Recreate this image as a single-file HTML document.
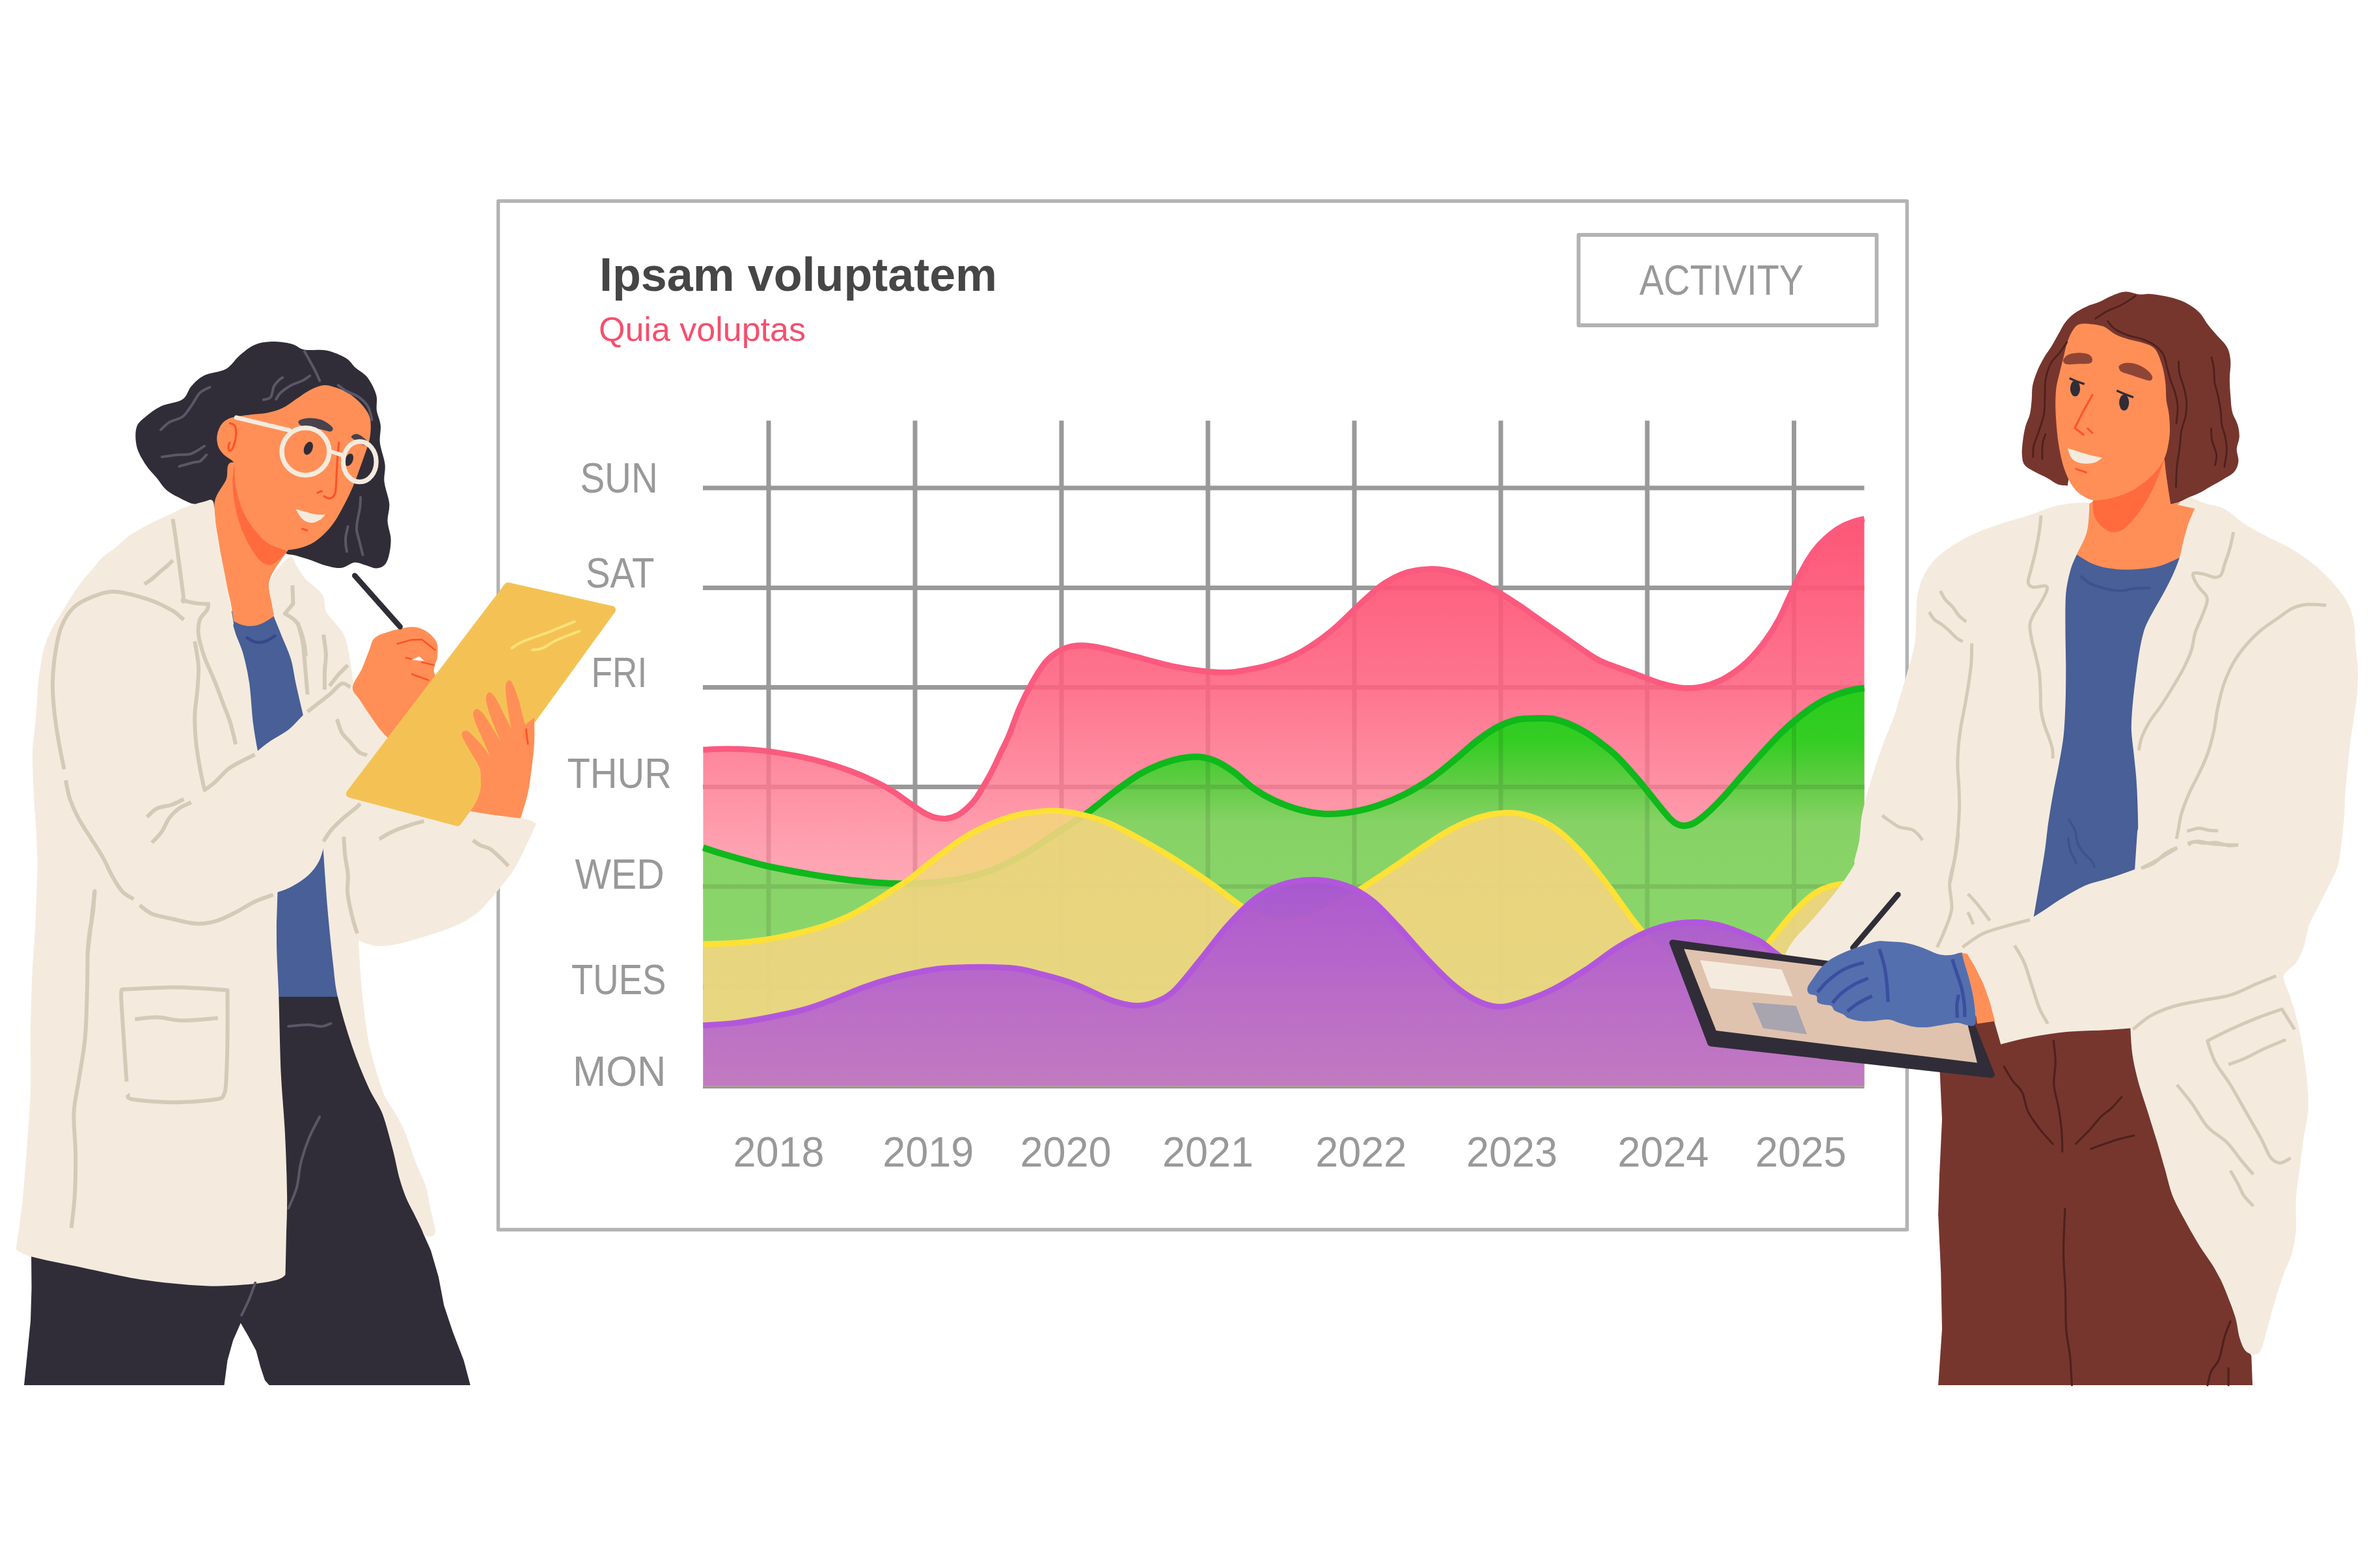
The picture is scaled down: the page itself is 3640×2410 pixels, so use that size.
<!DOCTYPE html>
<html><head><meta charset="utf-8"><title>Chart</title>
<style>html,body{margin:0;padding:0;background:#fff}body{width:3640px;height:2410px;overflow:hidden}svg{display:block}text{font-family:"Liberation Sans",sans-serif}</style>
</head><body>
<svg width="3640" height="2410" viewBox="0 0 3640 2410">
<rect width="3640" height="2410" fill="#fff"/>
<rect x="765.5" y="309" width="2164.7" height="1581" fill="none" stroke="#b3b3b3" stroke-width="5.4" stroke-linejoin="round"/>
<rect x="2425.5" y="361" width="458" height="139" fill="none" stroke="#b3b3b3" stroke-width="5.8" stroke-linejoin="round"/>
<text x="2519" y="452.5" font-size="65" fill="#999" textLength="252" lengthAdjust="spacingAndGlyphs">ACTIVITY</text>
<text x="921" y="447" font-size="72" font-weight="bold" fill="#464646" textLength="611" lengthAdjust="spacingAndGlyphs">Ipsam voluptatem</text>
<text x="920" y="524" font-size="52" fill="#f4506e" textLength="318" lengthAdjust="spacingAndGlyphs">Quia voluptas</text>
<path d="M1181 646.5V1672M1406 646.5V1672M1631 646.5V1672M1856 646.5V1672M2081 646.5V1672M2306 646.5V1672M2531 646.5V1672M2756.5 646.5V1672M1080 750H2864.5M1080 903.5H2864.5M1080 1056.5H2864.5M1080 1209.5H2864.5M1080 1362.5H2864.5M1080 1517H2864.5M1080 1669.5H2864.5" stroke="#999999" stroke-width="7" fill="none"/>
<text x="891.4" y="757" font-size="64" fill="#999" textLength="119.4" lengthAdjust="spacingAndGlyphs">SUN</text>
<text x="900" y="903" font-size="64" fill="#999" textLength="105.5" lengthAdjust="spacingAndGlyphs">SAT</text>
<text x="908.6" y="1056" font-size="64" fill="#999" textLength="85.6" lengthAdjust="spacingAndGlyphs">FRI</text>
<text x="871.5" y="1211" font-size="64" fill="#999" textLength="160.5" lengthAdjust="spacingAndGlyphs">THUR</text>
<text x="883.4" y="1366" font-size="64" fill="#999" textLength="137.4" lengthAdjust="spacingAndGlyphs">WED</text>
<text x="878" y="1528" font-size="64" fill="#999" textLength="145.4" lengthAdjust="spacingAndGlyphs">TUES</text>
<text x="880" y="1669" font-size="64" fill="#999" textLength="143.4" lengthAdjust="spacingAndGlyphs">MON</text>
<text x="1126.6" y="1793" font-size="64" fill="#999" textLength="140" lengthAdjust="spacingAndGlyphs">2018</text>
<text x="1356.3" y="1793" font-size="64" fill="#999" textLength="140" lengthAdjust="spacingAndGlyphs">2019</text>
<text x="1567.5" y="1793" font-size="64" fill="#999" textLength="140" lengthAdjust="spacingAndGlyphs">2020</text>
<text x="1786" y="1793" font-size="64" fill="#999" textLength="140" lengthAdjust="spacingAndGlyphs">2021</text>
<text x="2021.3" y="1793" font-size="64" fill="#999" textLength="140" lengthAdjust="spacingAndGlyphs">2022</text>
<text x="2252.9" y="1793" font-size="64" fill="#999" textLength="140" lengthAdjust="spacingAndGlyphs">2023</text>
<text x="2485.5" y="1793" font-size="64" fill="#999" textLength="140" lengthAdjust="spacingAndGlyphs">2024</text>
<text x="2697" y="1793" font-size="64" fill="#999" textLength="140" lengthAdjust="spacingAndGlyphs">2025</text>
<defs>
<linearGradient id="gp" gradientUnits="userSpaceOnUse" x1="0" y1="796" x2="0" y2="1672"><stop offset="0" stop-color="#fd4f70" stop-opacity=".96"/><stop offset=".3" stop-color="#fe6280" stop-opacity=".88"/><stop offset=".6" stop-color="#fe8a9d" stop-opacity=".78"/><stop offset="1" stop-color="#ffa4b4" stop-opacity=".6"/></linearGradient>
<linearGradient id="gg" gradientUnits="userSpaceOnUse" x1="0" y1="1054" x2="0" y2="1672"><stop offset="0" stop-color="#22cf18" stop-opacity=".97"/><stop offset=".14" stop-color="#2dd01f" stop-opacity=".96"/><stop offset=".25" stop-color="#5ccf42" stop-opacity=".95"/><stop offset=".34" stop-color="#80d561" stop-opacity=".95"/><stop offset="1" stop-color="#8bdb6e" stop-opacity=".95"/></linearGradient>
<linearGradient id="gy" gradientUnits="userSpaceOnUse" x1="0" y1="1240" x2="0" y2="1672"><stop offset="0" stop-color="#f3d47e" stop-opacity=".9"/><stop offset="1" stop-color="#eed783" stop-opacity=".93"/></linearGradient>
<linearGradient id="gv" gradientUnits="userSpaceOnUse" x1="0" y1="1349" x2="0" y2="1672"><stop offset="0" stop-color="#aa50d6" stop-opacity=".94"/><stop offset="1" stop-color="#c178c2" stop-opacity=".97"/></linearGradient>
</defs>
<path d="M1080.4 1152.3C1086.4 1152.1 1104.1 1151 1116.5 1151C1128.9 1151 1142 1151.4 1154.8 1152.3C1167.6 1153.2 1180.3 1154.8 1193.1 1156.6C1205.8 1158.5 1218.6 1160.6 1231.3 1163.3C1244.1 1165.9 1256.8 1169 1269.6 1172.7C1282.3 1176.4 1295.1 1180.6 1307.9 1185.5C1320.6 1190.3 1335.5 1196.9 1346.1 1202C1356.8 1207.1 1363.1 1210.8 1371.6 1216.1C1380.1 1221.4 1389.5 1228.6 1397.1 1233.9C1404.8 1239.2 1411.2 1244.3 1417.6 1248C1423.9 1251.7 1429.5 1254.4 1435.4 1256.1C1441.4 1257.8 1447.3 1258.7 1453.3 1258.2C1459.2 1257.7 1465.6 1255.8 1471.1 1253.1C1476.6 1250.3 1481.8 1245.8 1486.4 1241.6C1491.1 1237.3 1494.9 1233.3 1499.2 1227.6C1503.4 1221.8 1507.7 1214.4 1511.9 1207.1C1516.2 1199.9 1520.4 1192.5 1524.7 1184.2C1528.9 1175.9 1533.2 1166.3 1537.4 1157.4C1541.7 1148.5 1545.3 1142.3 1550.2 1130.6C1555.1 1119 1560.7 1101.4 1566.8 1087.4C1573 1073.5 1580.4 1058.7 1587.1 1046.9C1593.9 1035.1 1600.6 1024.3 1607.4 1016.5C1614.1 1008.7 1620.9 1004.2 1627.6 1000.3C1634.4 996.4 1641.1 994.6 1647.9 993.2C1654.7 991.9 1659.7 991.5 1668.2 992.2C1676.6 992.9 1685.1 994.2 1698.6 997.3C1712.1 1000.3 1732.3 1006 1749.2 1010.4C1766.1 1014.8 1783 1020.1 1799.9 1023.6C1816.8 1027.2 1835.3 1030.1 1850.5 1031.7C1865.7 1033.3 1877.6 1034.1 1891.1 1033.2C1904.6 1032.4 1921.6 1028.5 1931.6 1026.6C1941.6 1024.8 1943.5 1024.2 1951 1021.9C1958.5 1019.7 1968 1016.6 1976.5 1013C1985 1009.4 1993.5 1005.1 2002 1000.3C2010.5 995.4 2019 989.8 2027.6 983.7C2036.1 977.5 2044.6 970.7 2053.1 963.3C2061.6 955.8 2070.9 946.3 2078.6 939C2086.2 931.8 2092.2 926.1 2099 919.9C2105.8 913.7 2112.6 907.1 2119.4 902C2126.2 896.9 2133 892.9 2139.8 889.3C2146.6 885.7 2153.4 882.6 2160.2 880.4C2167 878.1 2173.8 877 2180.6 876C2187.4 875 2194.2 874.4 2201 874.5C2207.8 874.6 2214.6 875.3 2221.4 876.5C2228.2 877.7 2235 879.5 2241.8 881.6C2248.6 883.8 2255.4 886.3 2262.2 889.3C2269 892.3 2275 895.5 2282.7 899.5C2290.3 903.5 2299.7 908.4 2308.2 913.5C2316.7 918.6 2325.2 924.4 2333.7 930.1C2342.2 935.8 2350.7 942 2359.2 948C2367.7 953.9 2376.2 959.9 2384.7 965.8C2393.2 971.8 2401.7 977.7 2410.2 983.7C2418.7 989.6 2427.2 996 2435.7 1001.5C2444.2 1007.1 2448 1011 2461.2 1016.8C2474.4 1022.7 2499.5 1030.9 2514.8 1036.6C2530.1 1042.2 2540.9 1047.2 2553.1 1050.7C2565.2 1054.2 2577.3 1056.8 2587.5 1057.6C2597.7 1058.4 2605.4 1057.5 2614.3 1055.7C2623.2 1053.9 2632.1 1051 2641.1 1046.9C2650 1042.7 2659.6 1036.8 2667.9 1030.8C2676.2 1024.8 2683.2 1018.9 2690.8 1010.9C2698.5 1002.9 2706.8 992.7 2713.8 983C2720.8 973.2 2727.2 962.9 2732.9 952.4C2738.7 941.9 2743.1 930.7 2748.2 919.8C2753.3 909 2758.4 897.4 2763.5 887.3C2768.6 877.2 2773.7 867.5 2778.8 859.4C2783.9 851.3 2788.4 845.2 2794.1 838.7C2799.9 832.2 2806.9 825.5 2813.3 820.4C2819.6 815.3 2826 811.4 2832.4 808.1C2838.8 804.8 2846.2 802.2 2851.5 800.5C2856.9 798.7 2862.3 797.9 2864.5 797.4V1669.6H1080.4Z" fill="url(#gp)"/>
<path d="M1080.4 1152.3C1086.4 1152.1 1104.1 1151 1116.5 1151C1128.9 1151 1142 1151.4 1154.8 1152.3C1167.6 1153.2 1180.3 1154.8 1193.1 1156.6C1205.8 1158.5 1218.6 1160.6 1231.3 1163.3C1244.1 1165.9 1256.8 1169 1269.6 1172.7C1282.3 1176.4 1295.1 1180.6 1307.9 1185.5C1320.6 1190.3 1335.5 1196.9 1346.1 1202C1356.8 1207.1 1363.1 1210.8 1371.6 1216.1C1380.1 1221.4 1389.5 1228.6 1397.1 1233.9C1404.8 1239.2 1411.2 1244.3 1417.6 1248C1423.9 1251.7 1429.5 1254.4 1435.4 1256.1C1441.4 1257.8 1447.3 1258.7 1453.3 1258.2C1459.2 1257.7 1465.6 1255.8 1471.1 1253.1C1476.6 1250.3 1481.8 1245.8 1486.4 1241.6C1491.1 1237.3 1494.9 1233.3 1499.2 1227.6C1503.4 1221.8 1507.7 1214.4 1511.9 1207.1C1516.2 1199.9 1520.4 1192.5 1524.7 1184.2C1528.9 1175.9 1533.2 1166.3 1537.4 1157.4C1541.7 1148.5 1545.3 1142.3 1550.2 1130.6C1555.1 1119 1560.7 1101.4 1566.8 1087.4C1573 1073.5 1580.4 1058.7 1587.1 1046.9C1593.9 1035.1 1600.6 1024.3 1607.4 1016.5C1614.1 1008.7 1620.9 1004.2 1627.6 1000.3C1634.4 996.4 1641.1 994.6 1647.9 993.2C1654.7 991.9 1659.7 991.5 1668.2 992.2C1676.6 992.9 1685.1 994.2 1698.6 997.3C1712.1 1000.3 1732.3 1006 1749.2 1010.4C1766.1 1014.8 1783 1020.1 1799.9 1023.6C1816.8 1027.2 1835.3 1030.1 1850.5 1031.7C1865.7 1033.3 1877.6 1034.1 1891.1 1033.2C1904.6 1032.4 1921.6 1028.5 1931.6 1026.6C1941.6 1024.8 1943.5 1024.2 1951 1021.9C1958.5 1019.7 1968 1016.6 1976.5 1013C1985 1009.4 1993.5 1005.1 2002 1000.3C2010.5 995.4 2019 989.8 2027.6 983.7C2036.1 977.5 2044.6 970.7 2053.1 963.3C2061.6 955.8 2070.9 946.3 2078.6 939C2086.2 931.8 2092.2 926.1 2099 919.9C2105.8 913.7 2112.6 907.1 2119.4 902C2126.2 896.9 2133 892.9 2139.8 889.3C2146.6 885.7 2153.4 882.6 2160.2 880.4C2167 878.1 2173.8 877 2180.6 876C2187.4 875 2194.2 874.4 2201 874.5C2207.8 874.6 2214.6 875.3 2221.4 876.5C2228.2 877.7 2235 879.5 2241.8 881.6C2248.6 883.8 2255.4 886.3 2262.2 889.3C2269 892.3 2275 895.5 2282.7 899.5C2290.3 903.5 2299.7 908.4 2308.2 913.5C2316.7 918.6 2325.2 924.4 2333.7 930.1C2342.2 935.8 2350.7 942 2359.2 948C2367.7 953.9 2376.2 959.9 2384.7 965.8C2393.2 971.8 2401.7 977.7 2410.2 983.7C2418.7 989.6 2427.2 996 2435.7 1001.5C2444.2 1007.1 2448 1011 2461.2 1016.8C2474.4 1022.7 2499.5 1030.9 2514.8 1036.6C2530.1 1042.2 2540.9 1047.2 2553.1 1050.7C2565.2 1054.2 2577.3 1056.8 2587.5 1057.6C2597.7 1058.4 2605.4 1057.5 2614.3 1055.7C2623.2 1053.9 2632.1 1051 2641.1 1046.9C2650 1042.7 2659.6 1036.8 2667.9 1030.8C2676.2 1024.8 2683.2 1018.9 2690.8 1010.9C2698.5 1002.9 2706.8 992.7 2713.8 983C2720.8 973.2 2727.2 962.9 2732.9 952.4C2738.7 941.9 2743.1 930.7 2748.2 919.8C2753.3 909 2758.4 897.4 2763.5 887.3C2768.6 877.2 2773.7 867.5 2778.8 859.4C2783.9 851.3 2788.4 845.2 2794.1 838.7C2799.9 832.2 2806.9 825.5 2813.3 820.4C2819.6 815.3 2826 811.4 2832.4 808.1C2838.8 804.8 2846.2 802.2 2851.5 800.5C2856.9 798.7 2862.3 797.9 2864.5 797.4" fill="none" stroke="#fb5a7e" stroke-width="9"/>
<path d="M1080.4 1302.8C1086.4 1304.7 1100.3 1309.6 1116.5 1314.3C1132.8 1319 1156.5 1326 1177.8 1330.9C1199 1335.8 1224.5 1340.2 1244.1 1343.6C1263.6 1347 1278.1 1349.1 1295.1 1351.3C1312.1 1353.4 1331.2 1355.2 1346.1 1356.4C1361 1357.5 1371.6 1358 1384.4 1358.2C1397.1 1358.3 1407.8 1358.3 1422.7 1357.1C1437.5 1356 1456.7 1354.6 1473.7 1351.3C1490.7 1348 1507.7 1343.8 1524.7 1337.2C1541.7 1330.7 1560.8 1320.2 1575.7 1311.7C1590.6 1303.2 1598.7 1296.2 1614 1286.2C1629.2 1276.3 1650.7 1263.6 1667.2 1252C1683.6 1240.4 1698.4 1227.1 1712.8 1216.5C1727.1 1206 1739.8 1196.3 1753.3 1188.7C1766.8 1181.1 1780.3 1175.1 1793.8 1170.9C1807.3 1166.7 1822.5 1163.7 1834.3 1163.3C1846.2 1162.9 1854.6 1164.6 1864.7 1168.4C1874.9 1172.2 1885 1178.9 1895.1 1186.1C1905.3 1193.3 1915.4 1204.3 1925.5 1211.4C1935.7 1218.6 1944.1 1223.7 1955.9 1229.2C1967.7 1234.7 1982.9 1240.7 1996.5 1244.4C2010 1248 2023.5 1250.4 2037 1251C2050.5 1251.6 2064 1250.1 2077.5 1247.9C2091 1245.7 2104.5 1242.4 2118 1237.8C2131.5 1233.2 2145.1 1227.5 2158.6 1220.6C2172.1 1213.6 2186.4 1204.9 2199.1 1196.3C2211.8 1187.6 2222.7 1178.1 2234.5 1168.4C2246.4 1158.7 2259 1146.4 2270 1138C2281 1129.6 2290.3 1123 2300.4 1117.7C2310.5 1112.4 2320.7 1108.4 2330.8 1106.1C2340.9 1103.8 2352.2 1104.3 2361.2 1104.1C2370.2 1103.8 2376.5 1103.4 2384.7 1104.8C2392.9 1106.3 2401.7 1109.1 2410.2 1112.5C2418.7 1115.9 2427.2 1120.2 2435.7 1125.3C2444.2 1130.4 2452.7 1136.5 2461.2 1143.1C2469.7 1149.7 2476.5 1154.5 2486.7 1164.8C2496.9 1175.1 2512.7 1193.5 2522.5 1204.9C2532.2 1216.4 2538.4 1225 2545.4 1233.6C2552.4 1242.2 2559.4 1251.2 2564.5 1256.6C2569.6 1262 2572.2 1264.1 2576 1266.2C2579.8 1268.3 2583 1269.4 2587.5 1269.2C2592 1269 2597.1 1268.1 2602.8 1265C2608.5 1261.9 2614.3 1257.7 2621.9 1250.8C2629.6 1244 2639.8 1233.6 2648.7 1224.1C2657.7 1214.5 2665.9 1204.3 2675.5 1193.4C2685.1 1182.6 2695.9 1170.2 2706.1 1159C2716.3 1147.8 2726.5 1136.4 2736.7 1126.5C2746.9 1116.6 2757.1 1107.7 2767.4 1099.7C2777.6 1091.7 2787.8 1084.4 2798 1078.7C2808.2 1072.9 2819.6 1068.4 2828.6 1065.3C2837.5 1062.1 2845.5 1060.8 2851.5 1059.5C2857.5 1058.2 2862.3 1057.9 2864.5 1057.6V1669.6H1080.4Z" fill="url(#gg)"/>
<clipPath id="cgg"><path d="M1080.4 1302.8C1086.4 1304.7 1100.3 1309.6 1116.5 1314.3C1132.8 1319 1156.5 1326 1177.8 1330.9C1199 1335.8 1224.5 1340.2 1244.1 1343.6C1263.6 1347 1278.1 1349.1 1295.1 1351.3C1312.1 1353.4 1331.2 1355.2 1346.1 1356.4C1361 1357.5 1371.6 1358 1384.4 1358.2C1397.1 1358.3 1407.8 1358.3 1422.7 1357.1C1437.5 1356 1456.7 1354.6 1473.7 1351.3C1490.7 1348 1507.7 1343.8 1524.7 1337.2C1541.7 1330.7 1560.8 1320.2 1575.7 1311.7C1590.6 1303.2 1598.7 1296.2 1614 1286.2C1629.2 1276.3 1650.7 1263.6 1667.2 1252C1683.6 1240.4 1698.4 1227.1 1712.8 1216.5C1727.1 1206 1739.8 1196.3 1753.3 1188.7C1766.8 1181.1 1780.3 1175.1 1793.8 1170.9C1807.3 1166.7 1822.5 1163.7 1834.3 1163.3C1846.2 1162.9 1854.6 1164.6 1864.7 1168.4C1874.9 1172.2 1885 1178.9 1895.1 1186.1C1905.3 1193.3 1915.4 1204.3 1925.5 1211.4C1935.7 1218.6 1944.1 1223.7 1955.9 1229.2C1967.7 1234.7 1982.9 1240.7 1996.5 1244.4C2010 1248 2023.5 1250.4 2037 1251C2050.5 1251.6 2064 1250.1 2077.5 1247.9C2091 1245.7 2104.5 1242.4 2118 1237.8C2131.5 1233.2 2145.1 1227.5 2158.6 1220.6C2172.1 1213.6 2186.4 1204.9 2199.1 1196.3C2211.8 1187.6 2222.7 1178.1 2234.5 1168.4C2246.4 1158.7 2259 1146.4 2270 1138C2281 1129.6 2290.3 1123 2300.4 1117.7C2310.5 1112.4 2320.7 1108.4 2330.8 1106.1C2340.9 1103.8 2352.2 1104.3 2361.2 1104.1C2370.2 1103.8 2376.5 1103.4 2384.7 1104.8C2392.9 1106.3 2401.7 1109.1 2410.2 1112.5C2418.7 1115.9 2427.2 1120.2 2435.7 1125.3C2444.2 1130.4 2452.7 1136.5 2461.2 1143.1C2469.7 1149.7 2476.5 1154.5 2486.7 1164.8C2496.9 1175.1 2512.7 1193.5 2522.5 1204.9C2532.2 1216.4 2538.4 1225 2545.4 1233.6C2552.4 1242.2 2559.4 1251.2 2564.5 1256.6C2569.6 1262 2572.2 1264.1 2576 1266.2C2579.8 1268.3 2583 1269.4 2587.5 1269.2C2592 1269 2597.1 1268.1 2602.8 1265C2608.5 1261.9 2614.3 1257.7 2621.9 1250.8C2629.6 1244 2639.8 1233.6 2648.7 1224.1C2657.7 1214.5 2665.9 1204.3 2675.5 1193.4C2685.1 1182.6 2695.9 1170.2 2706.1 1159C2716.3 1147.8 2726.5 1136.4 2736.7 1126.5C2746.9 1116.6 2757.1 1107.7 2767.4 1099.7C2777.6 1091.7 2787.8 1084.4 2798 1078.7C2808.2 1072.9 2819.6 1068.4 2828.6 1065.3C2837.5 1062.1 2845.5 1060.8 2851.5 1059.5C2857.5 1058.2 2862.3 1057.9 2864.5 1057.6V1669.6H1080.4Z"/></clipPath>
<path d="M1181 646.5V1672M1406 646.5V1672M1631 646.5V1672M1856 646.5V1672M2081 646.5V1672M2306 646.5V1672M2531 646.5V1672M2756.5 646.5V1672M1080 750H2864.5M1080 903.5H2864.5M1080 1056.5H2864.5M1080 1209.5H2864.5M1080 1362.5H2864.5M1080 1517H2864.5M1080 1669.5H2864.5" stroke="#000" stroke-opacity="0.09" stroke-width="7" fill="none" clip-path="url(#cgg)"/>
<path d="M1080.4 1302.8C1086.4 1304.7 1100.3 1309.6 1116.5 1314.3C1132.8 1319 1156.5 1326 1177.8 1330.9C1199 1335.8 1224.5 1340.2 1244.1 1343.6C1263.6 1347 1278.1 1349.1 1295.1 1351.3C1312.1 1353.4 1331.2 1355.2 1346.1 1356.4C1361 1357.5 1371.6 1358 1384.4 1358.2C1397.1 1358.3 1407.8 1358.3 1422.7 1357.1C1437.5 1356 1456.7 1354.6 1473.7 1351.3C1490.7 1348 1507.7 1343.8 1524.7 1337.2C1541.7 1330.7 1560.8 1320.2 1575.7 1311.7C1590.6 1303.2 1598.7 1296.2 1614 1286.2C1629.2 1276.3 1650.7 1263.6 1667.2 1252C1683.6 1240.4 1698.4 1227.1 1712.8 1216.5C1727.1 1206 1739.8 1196.3 1753.3 1188.7C1766.8 1181.1 1780.3 1175.1 1793.8 1170.9C1807.3 1166.7 1822.5 1163.7 1834.3 1163.3C1846.2 1162.9 1854.6 1164.6 1864.7 1168.4C1874.9 1172.2 1885 1178.9 1895.1 1186.1C1905.3 1193.3 1915.4 1204.3 1925.5 1211.4C1935.7 1218.6 1944.1 1223.7 1955.9 1229.2C1967.7 1234.7 1982.9 1240.7 1996.5 1244.4C2010 1248 2023.5 1250.4 2037 1251C2050.5 1251.6 2064 1250.1 2077.5 1247.9C2091 1245.7 2104.5 1242.4 2118 1237.8C2131.5 1233.2 2145.1 1227.5 2158.6 1220.6C2172.1 1213.6 2186.4 1204.9 2199.1 1196.3C2211.8 1187.6 2222.7 1178.1 2234.5 1168.4C2246.4 1158.7 2259 1146.4 2270 1138C2281 1129.6 2290.3 1123 2300.4 1117.7C2310.5 1112.4 2320.7 1108.4 2330.8 1106.1C2340.9 1103.8 2352.2 1104.3 2361.2 1104.1C2370.2 1103.8 2376.5 1103.4 2384.7 1104.8C2392.9 1106.3 2401.7 1109.1 2410.2 1112.5C2418.7 1115.9 2427.2 1120.2 2435.7 1125.3C2444.2 1130.4 2452.7 1136.5 2461.2 1143.1C2469.7 1149.7 2476.5 1154.5 2486.7 1164.8C2496.9 1175.1 2512.7 1193.5 2522.5 1204.9C2532.2 1216.4 2538.4 1225 2545.4 1233.6C2552.4 1242.2 2559.4 1251.2 2564.5 1256.6C2569.6 1262 2572.2 1264.1 2576 1266.2C2579.8 1268.3 2583 1269.4 2587.5 1269.2C2592 1269 2597.1 1268.1 2602.8 1265C2608.5 1261.9 2614.3 1257.7 2621.9 1250.8C2629.6 1244 2639.8 1233.6 2648.7 1224.1C2657.7 1214.5 2665.9 1204.3 2675.5 1193.4C2685.1 1182.6 2695.9 1170.2 2706.1 1159C2716.3 1147.8 2726.5 1136.4 2736.7 1126.5C2746.9 1116.6 2757.1 1107.7 2767.4 1099.7C2777.6 1091.7 2787.8 1084.4 2798 1078.7C2808.2 1072.9 2819.6 1068.4 2828.6 1065.3C2837.5 1062.1 2845.5 1060.8 2851.5 1059.5C2857.5 1058.2 2862.3 1057.9 2864.5 1057.6" fill="none" stroke="#0fb81b" stroke-width="10"/>
<path d="M1080.4 1451C1086.4 1450.9 1104.1 1450.7 1116.5 1450C1128.9 1449.3 1142 1448.4 1154.8 1446.9C1167.6 1445.5 1180.3 1443.7 1193.1 1441.3C1205.8 1439 1218.6 1436.1 1231.3 1432.9C1244.1 1429.7 1256.8 1426.4 1269.6 1421.9C1282.3 1417.5 1295.1 1412.4 1307.9 1406.1C1320.6 1399.9 1335.5 1390.8 1346.1 1384.4C1356.8 1378.1 1363.1 1373.4 1371.6 1367.9C1380.1 1362.3 1388.6 1357.4 1397.1 1351.3C1405.6 1345.1 1414.1 1337.5 1422.7 1330.9C1431.2 1324.2 1439.7 1317.6 1448.2 1311.2C1456.7 1304.8 1465.2 1298.3 1473.7 1292.6C1482.2 1286.9 1490.7 1281.8 1499.2 1277.3C1507.7 1272.7 1516.2 1268.8 1524.7 1265.3C1533.2 1261.8 1541.7 1258.7 1550.2 1256.1C1558.7 1253.6 1567.2 1251.5 1575.7 1250C1584.2 1248.5 1592.7 1247.6 1601.2 1246.9C1609.7 1246.3 1616.6 1245.3 1626.7 1246.2C1636.9 1247 1649.5 1248.9 1662.1 1252C1674.8 1255.1 1689.1 1259.2 1702.6 1264.6C1716.1 1270.1 1729.7 1277.7 1743.2 1284.9C1756.7 1292.1 1770.2 1299.7 1783.7 1307.7C1797.2 1315.7 1810.7 1324.2 1824.2 1333C1837.7 1341.9 1851.2 1351.2 1864.7 1360.9C1878.3 1370.6 1891.8 1382.4 1905.3 1391.3C1918.8 1400.2 1934 1409.6 1945.8 1414.1C1957.6 1418.6 1966.1 1418.6 1976.2 1418.1C1986.3 1417.7 1994.8 1415.6 2006.6 1411.6C2018.4 1407.5 2033.6 1401 2047.1 1393.8C2060.6 1386.6 2070.8 1379.5 2087.6 1368.5C2104.5 1357.5 2131.5 1339.4 2148.4 1328C2165.3 1316.6 2175.4 1309 2189 1300.1C2202.5 1291.2 2216 1281.9 2229.5 1274.8C2243 1267.6 2256.5 1261.3 2270 1257C2283.5 1252.8 2297 1249.9 2310.5 1249.4C2324 1249 2337.6 1250.3 2351.1 1254.5C2364.6 1258.7 2378.1 1265.1 2391.6 1274.8C2405.1 1284.5 2418.6 1298 2432.1 1312.8C2445.6 1327.5 2459.1 1345.7 2472.6 1363.4C2486.2 1381.2 2499.7 1402.3 2513.2 1419.1C2526.7 1436 2543.6 1455 2553.7 1464.7C2563.8 1474.5 2563.6 1468.8 2574 1477.4C2584.4 1486 2602.7 1511 2616.1 1516.5C2629.6 1521.9 2641.7 1516.5 2654.4 1510.1C2667.2 1503.7 2681 1489.9 2692.7 1478.2C2704.4 1466.5 2714 1452.7 2724.6 1439.9C2735.2 1427.2 2745.9 1412.8 2756.5 1401.7C2767.1 1390.5 2777.7 1379.9 2788.4 1373C2799 1366.1 2807.6 1362.9 2820.3 1360.2C2833 1357.5 2857.1 1357.5 2864.5 1357V1669.6H1080.4Z" fill="url(#gy)"/>
<path d="M1080.4 1451C1086.4 1450.9 1104.1 1450.7 1116.5 1450C1128.9 1449.3 1142 1448.4 1154.8 1446.9C1167.6 1445.5 1180.3 1443.7 1193.1 1441.3C1205.8 1439 1218.6 1436.1 1231.3 1432.9C1244.1 1429.7 1256.8 1426.4 1269.6 1421.9C1282.3 1417.5 1295.1 1412.4 1307.9 1406.1C1320.6 1399.9 1335.5 1390.8 1346.1 1384.4C1356.8 1378.1 1363.1 1373.4 1371.6 1367.9C1380.1 1362.3 1388.6 1357.4 1397.1 1351.3C1405.6 1345.1 1414.1 1337.5 1422.7 1330.9C1431.2 1324.2 1439.7 1317.6 1448.2 1311.2C1456.7 1304.8 1465.2 1298.3 1473.7 1292.6C1482.2 1286.9 1490.7 1281.8 1499.2 1277.3C1507.7 1272.7 1516.2 1268.8 1524.7 1265.3C1533.2 1261.8 1541.7 1258.7 1550.2 1256.1C1558.7 1253.6 1567.2 1251.5 1575.7 1250C1584.2 1248.5 1592.7 1247.6 1601.2 1246.9C1609.7 1246.3 1616.6 1245.3 1626.7 1246.2C1636.9 1247 1649.5 1248.9 1662.1 1252C1674.8 1255.1 1689.1 1259.2 1702.6 1264.6C1716.1 1270.1 1729.7 1277.7 1743.2 1284.9C1756.7 1292.1 1770.2 1299.7 1783.7 1307.7C1797.2 1315.7 1810.7 1324.2 1824.2 1333C1837.7 1341.9 1851.2 1351.2 1864.7 1360.9C1878.3 1370.6 1891.8 1382.4 1905.3 1391.3C1918.8 1400.2 1934 1409.6 1945.8 1414.1C1957.6 1418.6 1966.1 1418.6 1976.2 1418.1C1986.3 1417.7 1994.8 1415.6 2006.6 1411.6C2018.4 1407.5 2033.6 1401 2047.1 1393.8C2060.6 1386.6 2070.8 1379.5 2087.6 1368.5C2104.5 1357.5 2131.5 1339.4 2148.4 1328C2165.3 1316.6 2175.4 1309 2189 1300.1C2202.5 1291.2 2216 1281.9 2229.5 1274.8C2243 1267.6 2256.5 1261.3 2270 1257C2283.5 1252.8 2297 1249.9 2310.5 1249.4C2324 1249 2337.6 1250.3 2351.1 1254.5C2364.6 1258.7 2378.1 1265.1 2391.6 1274.8C2405.1 1284.5 2418.6 1298 2432.1 1312.8C2445.6 1327.5 2459.1 1345.7 2472.6 1363.4C2486.2 1381.2 2499.7 1402.3 2513.2 1419.1C2526.7 1436 2543.6 1455 2553.7 1464.7C2563.8 1474.5 2563.6 1468.8 2574 1477.4C2584.4 1486 2602.7 1511 2616.1 1516.5C2629.6 1521.9 2641.7 1516.5 2654.4 1510.1C2667.2 1503.7 2681 1489.9 2692.7 1478.2C2704.4 1466.5 2714 1452.7 2724.6 1439.9C2735.2 1427.2 2745.9 1412.8 2756.5 1401.7C2767.1 1390.5 2777.7 1379.9 2788.4 1373C2799 1366.1 2807.6 1362.9 2820.3 1360.2C2833 1357.5 2857.1 1357.5 2864.5 1357" fill="none" stroke="#ffe135" stroke-width="9"/>
<path d="M1080.4 1576C1088.6 1575.4 1112.2 1574.5 1129.3 1572.4C1146.4 1570.3 1165 1567 1182.9 1563.5C1200.7 1560 1220.1 1556.1 1236.5 1551.4C1252.8 1546.8 1266.2 1541.4 1281.1 1535.8C1296 1530.2 1310.9 1523.3 1325.8 1517.9C1340.6 1512.6 1355.5 1507.8 1370.4 1503.7C1385.3 1499.6 1400.2 1496.1 1415.1 1493.4C1430 1490.7 1437.1 1488.6 1459.7 1487.6C1482.3 1486.6 1527.1 1485.9 1550.7 1487.5C1574.3 1489.2 1584.4 1493.4 1601.3 1497.7C1618.2 1501.9 1635.1 1506.5 1652 1512.9C1668.9 1519.2 1690 1530.6 1702.6 1535.7C1715.3 1540.7 1720.4 1541.6 1728 1543.3C1735.6 1545 1740.6 1546.2 1748.2 1545.8C1755.8 1545.4 1764.3 1544.5 1773.6 1540.7C1782.8 1536.9 1792.1 1534 1804 1523C1815.8 1512 1831 1491.3 1844.5 1474.9C1858 1458.4 1871.5 1439.4 1885 1424.2C1898.5 1409 1912 1394.2 1925.5 1383.7C1939 1373.1 1950.9 1366.1 1966.1 1360.9C1981.3 1355.7 1999.8 1352.3 2016.7 1352.3C2033.6 1352.3 2052.2 1355.7 2067.4 1360.9C2082.6 1366.1 2094.4 1373.1 2107.9 1383.7C2121.4 1394.2 2134.9 1409.9 2148.4 1424.2C2161.9 1438.6 2175.4 1455.5 2189 1469.8C2202.5 1484.2 2216.8 1499.4 2229.5 1510.3C2242.1 1521.3 2253.1 1529.5 2264.9 1535.7C2276.8 1541.8 2288.6 1546.5 2300.4 1547.3C2312.2 1548.2 2321.5 1545.2 2335.9 1540.7C2350.2 1536.3 2369.6 1528.9 2386.5 1520.5C2403.4 1512 2420.3 1501 2437.2 1490.1C2454.1 1479.1 2471 1464.7 2487.8 1454.6C2504.7 1444.5 2521.6 1435.4 2538.5 1429.3C2555.4 1423.2 2572.3 1419.4 2589.2 1418.1C2606 1416.9 2621.3 1417.3 2639.8 1421.7C2658.3 1426.1 2686 1437.7 2700.1 1444.5C2714.2 1451.2 2713.1 1454 2724.6 1462.3C2736.1 1470.5 2753.3 1484.1 2769.2 1494.2C2785.2 1504.3 2804.4 1516 2820.3 1522.9C2836.1 1529.8 2857.1 1533.5 2864.5 1535.6V1669.6H1080.4Z" fill="url(#gv)"/>
<path d="M1080.4 1576C1088.6 1575.4 1112.2 1574.5 1129.3 1572.4C1146.4 1570.3 1165 1567 1182.9 1563.5C1200.7 1560 1220.1 1556.1 1236.5 1551.4C1252.8 1546.8 1266.2 1541.4 1281.1 1535.8C1296 1530.2 1310.9 1523.3 1325.8 1517.9C1340.6 1512.6 1355.5 1507.8 1370.4 1503.7C1385.3 1499.6 1400.2 1496.1 1415.1 1493.4C1430 1490.7 1437.1 1488.6 1459.7 1487.6C1482.3 1486.6 1527.1 1485.9 1550.7 1487.5C1574.3 1489.2 1584.4 1493.4 1601.3 1497.7C1618.2 1501.9 1635.1 1506.5 1652 1512.9C1668.9 1519.2 1690 1530.6 1702.6 1535.7C1715.3 1540.7 1720.4 1541.6 1728 1543.3C1735.6 1545 1740.6 1546.2 1748.2 1545.8C1755.8 1545.4 1764.3 1544.5 1773.6 1540.7C1782.8 1536.9 1792.1 1534 1804 1523C1815.8 1512 1831 1491.3 1844.5 1474.9C1858 1458.4 1871.5 1439.4 1885 1424.2C1898.5 1409 1912 1394.2 1925.5 1383.7C1939 1373.1 1950.9 1366.1 1966.1 1360.9C1981.3 1355.7 1999.8 1352.3 2016.7 1352.3C2033.6 1352.3 2052.2 1355.7 2067.4 1360.9C2082.6 1366.1 2094.4 1373.1 2107.9 1383.7C2121.4 1394.2 2134.9 1409.9 2148.4 1424.2C2161.9 1438.6 2175.4 1455.5 2189 1469.8C2202.5 1484.2 2216.8 1499.4 2229.5 1510.3C2242.1 1521.3 2253.1 1529.5 2264.9 1535.7C2276.8 1541.8 2288.6 1546.5 2300.4 1547.3C2312.2 1548.2 2321.5 1545.2 2335.9 1540.7C2350.2 1536.3 2369.6 1528.9 2386.5 1520.5C2403.4 1512 2420.3 1501 2437.2 1490.1C2454.1 1479.1 2471 1464.7 2487.8 1454.6C2504.7 1444.5 2521.6 1435.4 2538.5 1429.3C2555.4 1423.2 2572.3 1419.4 2589.2 1418.1C2606 1416.9 2621.3 1417.3 2639.8 1421.7C2658.3 1426.1 2686 1437.7 2700.1 1444.5C2714.2 1451.2 2713.1 1454 2724.6 1462.3C2736.1 1470.5 2753.3 1484.1 2769.2 1494.2C2785.2 1504.3 2804.4 1516 2820.3 1522.9C2836.1 1529.8 2857.1 1533.5 2864.5 1535.6" fill="none" stroke="#b257dc" stroke-width="9"/>
<path d="M390.9 530.2C399.2 526.5 408.1 525.4 417.6 525.1C427.1 524.9 439.4 526.4 447.7 528.5C456.1 530.5 458.9 535.8 467.8 537.5C476.7 539.2 490.6 536.4 501.2 538.5C511.8 540.6 523.8 545.8 531.3 550.2C538.8 554.7 540.8 560.2 546.3 565.3C551.9 570.3 559.4 573.3 564.7 580.3C570 587.3 575.8 598.7 578.1 607C580.4 615.4 577.7 622.7 578.8 630.5C579.9 638.3 584 645.5 584.8 653.9C585.6 662.2 582.7 670.6 583.8 680.6C584.9 690.6 590.4 704 591.5 714C592.6 724.1 589.4 730.8 590.5 740.8C591.6 750.8 597.3 764.2 598.2 774.2C599 784.2 595.1 792 595.5 801C595.9 809.9 600.1 819.4 600.5 827.7C600.9 836.1 599.7 844.4 598.2 851.1C596.7 857.8 594.8 864.1 591.5 867.8C588.1 871.6 583.1 873.4 578.1 873.5C573.1 873.6 567 870 561.4 868.5C555.8 867 550.8 863.8 544.7 864.5C538.5 865.2 531.9 872 524.6 872.8C517.4 873.7 509 871.5 501.2 869.5C493.4 867.6 485.6 863.8 477.8 861.1C470 858.5 461.6 856 454.4 853.8C447.2 851.6 443.3 854.3 434.3 847.8C425.4 841.2 412 822.7 400.9 814.3C389.8 806 378.6 803.2 367.5 797.6C356.3 792 345.2 784.7 334 780.9C322.9 777.1 308.4 776.6 300.6 774.9C292.8 773.2 294.5 774.3 287.2 770.9C280 767.4 264.9 760.3 257.1 754.2C249.3 748 246 740.8 240.4 734.1C234.8 727.4 228.7 721.8 223.7 714C218.7 706.2 212.7 696.8 210.3 687.3C208 677.8 207.4 665 209.7 657.2C211.9 649.4 217.5 645.9 223.7 640.5C229.9 635 237.6 628.9 247.1 624.4C256.6 620 272.7 618.9 280.5 613.7C288.3 608.6 288.3 599.8 293.9 593.7C299.5 587.5 305.1 581.4 314 577C322.9 572.5 338.5 571.9 347.4 566.9C356.3 561.9 360.2 553 367.5 546.9C374.7 540.7 382.5 533.8 390.9 530.2Z" fill="#302d38" />
<path d="M427 1525L520 1525L542 1608L590 1710L631 1831L650 1895L662 1922L673.8 1962.6L682.2 2006.5L695.7 2047L712.6 2091L722.7 2129L413.7 2129L407 2121.4L400.2 2101L393.4 2075.8L381.6 2053.8L369.8 2033.6L358 2060.6L349.5 2091L344.5 2129L37 2129L42 2080L47 2030L48.5 1980L47.8 1900L300 1900Z" fill="#302d38" />
<path d="M340 940L430 935L470 1100L500 1300L521 1532L425 1532L424 1372L395 1160Z" fill="#485f97" />
<path d="M379.5 980.2C381.2 981.1 386.1 984.7 389.7 985.8C393.3 987 397.2 987.7 401 987.3C404.7 987 408.7 985.3 412.3 983.6C415.9 981.9 420.7 978.3 422.4 977.2" fill="none" stroke="#34498a" stroke-width="4.5" stroke-linecap="round" stroke-linejoin="round" />
<path d="M359.1 710.7C344.6 709 352.1 728 347.4 737.4C342.7 746.9 333.5 757.5 330.7 767.5C327.9 777.6 329.9 787 330.7 797.6C331.5 808.2 333.5 817.1 335.7 831.1C337.9 845 341 865.6 344.1 881.2C347.1 896.8 351.6 912.4 354.1 924.7C356.6 936.9 359.1 954.8 359.1 954.8C359.1 954.8 367.7 959.5 372.5 960.8C377.2 962 382.2 962.7 387.5 962.1C392.8 961.6 398.6 960.1 404.2 957.4C409.9 954.8 421.6 946.4 421.6 946.4C421.6 946.4 418.8 933.9 417.6 924.7C416.4 915.5 410.4 904 414.3 891.2C418.2 878.4 432.1 860.6 441 847.8C449.9 835 468.9 831.1 467.8 814.3C466.7 797.6 452.4 764.7 434.3 747.5C416.2 730.2 373.6 712.4 359.1 710.7Z" fill="#ff8f57" />
<path d="M497.9 592C491.7 592.6 485 595.1 477.8 598.7C470.6 602.3 461.6 609 454.4 613.7C447.2 618.5 441.6 623.7 434.3 627.1C427.1 630.6 418.7 632.8 410.9 634.5C403.1 636.1 394.8 636.2 387.5 637.1C380.3 638 373.6 638.7 367.5 639.8C361.3 640.9 355.5 641.5 350.8 643.8C346 646.2 341.9 649.4 339.1 653.9C336.2 658.3 333.9 665 333.4 670.6C332.8 676.1 333.9 682.6 335.7 687.3C337.5 692 340.7 695.6 344.1 699C347.4 702.3 353.1 704.8 355.8 707.3C358.4 709.9 359.3 709.6 360.1 714C360.9 718.5 360.1 726.9 360.8 734.1C361.5 741.3 361.9 748.6 364.1 757.5C366.4 766.4 369.7 778.1 374.2 787.6C378.6 797.1 384.7 806.5 390.9 814.3C397 822.1 403.7 829.4 410.9 834.4C418.2 839.4 427.1 842.9 434.3 844.4C441.6 846 447.2 845.2 454.4 843.8C461.6 842.4 470.6 839.9 477.8 836.1C485 832.3 491.7 826.9 497.9 821C504 815.2 509.6 808.2 514.6 801C519.6 793.7 524 784.8 528 777.6C531.9 770.3 535.1 763.6 538 757.5C540.9 751.4 543.1 746.4 545.3 740.8C547.6 735.2 549 730.8 551.4 724.1C553.8 717.4 557 708.5 559.7 700.7C562.4 692.9 565.7 685.1 567.4 677.3C569.1 669.5 569.9 660.5 569.7 653.9C569.6 647.2 568.9 642.7 566.4 637.1C563.9 631.6 560 626 554.7 620.4C549.4 614.8 541.3 607.9 534.6 603.7C528 599.5 520.7 597.3 514.6 595.3C508.4 593.4 504 591.4 497.9 592Z" fill="#ff8f57" />
<path d="M360.1 714C360.7 713.5 360.1 726.9 360.8 734.1C361.5 741.3 361.9 748.6 364.1 757.5C366.4 766.4 369.7 778.1 374.2 787.6C378.6 797.1 384.7 806.5 390.9 814.3C397 822.1 403.7 829.4 410.9 834.4C418.2 839.4 429.2 842.3 434.3 844.4C439.5 846.5 441.7 847.1 441.7 847.1C441.7 847.1 433.9 855.9 429.3 859.5C424.8 863 419.6 868.5 414.3 868.5C409 868.5 403.4 865.7 397.6 859.5C391.7 853.2 384.5 841.4 379.2 831.1C373.9 820.7 369.1 808.8 365.8 797.6C362.5 786.5 360.5 774.2 359.1 764.2C357.7 754.2 357.3 745.8 357.4 737.4C357.6 729.1 359.6 714.6 360.1 714Z" fill="#ff6b3d" />
<path d="M459.4 646.5C461.6 644.7 468.6 642.7 474.5 642.5C480.3 642.3 488.5 643.2 494.5 645.5C500.5 647.8 508.3 653.6 510.6 656.5C512.8 659.5 511.1 662.7 507.9 663.2C504.7 663.7 497.3 660.7 491.2 659.5C485 658.4 476.1 657.3 471.1 656.2C466.1 655.1 463 654.8 461.1 653.2C459.1 651.6 457.2 648.3 459.4 646.5Z" fill="#47424d" />
<path d="M539.7 671.2C539.9 669.5 545.6 666.1 549.7 667.2C553.8 668.3 562.2 675 564.1 677.9C565.9 680.8 563.4 684.6 560.7 684.6C558 684.6 551.5 680.2 548 677.9C544.5 675.7 539.4 673 539.7 671.2Z" fill="#47424d" />
<ellipse cx="473.8" cy="689" rx="6.5" ry="10.5" fill="#302d38" transform="rotate(22 473.8 689)"/>
<ellipse cx="536.3" cy="706.7" rx="6" ry="10" fill="#302d38" transform="rotate(22 536.3 706.7)"/>
<path d="M520.6 680.6C520.1 686.2 518.6 702.9 517.9 714C517.2 725.2 516.9 739.7 516.2 747.5C515.6 755.3 515.6 757.7 513.9 760.8C512.2 764 508.9 765.9 506.2 766.2C503.5 766.5 499.3 763.4 497.9 762.8" fill="none" stroke="#ff5226" stroke-width="3.2" stroke-linecap="round" stroke-linejoin="round" />
<path d="M487.8 757.5C488.9 757.1 493.4 755.3 494.5 754.8" fill="none" stroke="#ff5226" stroke-width="3.2" stroke-linecap="round" stroke-linejoin="round" />
<path d="M464.4 812.7C465.7 813.1 470.6 814.9 471.8 815.3" fill="none" stroke="#ff5226" stroke-width="3" stroke-linecap="round" stroke-linejoin="round" />
<path d="M353.4 650.5C354.7 651.2 359.2 651.7 360.8 654.5C362.3 657.3 363 662.3 362.8 667.2C362.6 672.1 360.9 679.7 359.4 683.9C358 688.2 355.5 692 354.1 692.6C352.6 693.3 351 690 350.8 688C350.5 686 352.4 681.8 352.8 680.6" fill="none" stroke="#ff5226" stroke-width="3.2" stroke-linecap="round" stroke-linejoin="round" />
<path d="M454.4 782.6C454.4 782.6 462.8 784.9 467.8 786.3C472.8 787.6 479.1 789.8 484.5 790.6C489.8 791.4 499.9 790.9 499.9 790.9C499.9 790.9 494.9 797.2 491.2 799.3C487.5 801.4 482.3 803.9 477.8 803.6C473.3 803.4 468.3 801.1 464.4 797.6C460.5 794.1 454.4 782.6 454.4 782.6Z" fill="#f4ebde" />
<path d="M247.1 660.5C249.3 658.6 254.9 652.2 260.5 648.8C266.1 645.5 275 644.7 280.5 640.5C286.1 636.3 289.5 629.9 293.9 623.8C298.4 617.6 302.6 608.4 307.3 603.7C312 599 319.8 596.7 322.3 595.3" fill="none" stroke="#5b5767" stroke-width="4" stroke-linecap="round" stroke-linejoin="round" />
<path d="M248.8 702.3C253 701.8 266.3 699.8 273.9 699C281.4 698.2 287.2 699.5 293.9 697.3C300.6 695.1 310.6 687.6 314 685.6" fill="none" stroke="#5b5767" stroke-width="4" stroke-linecap="round" stroke-linejoin="round" />
<path d="M275.5 716.7C279.1 715.7 292 712 297.3 710.7C302.6 709.4 303.9 711 307.3 709C310.6 707.1 315.6 700.7 317.3 699" fill="none" stroke="#5b5767" stroke-width="4" stroke-linecap="round" stroke-linejoin="round" />
<path d="M404.9 614.4C406.8 613.7 413.3 613.8 415.9 610.4C418.6 606.9 418.7 598.1 421 593.7C423.2 589.2 427.1 585.9 429.3 583.6C431.6 581.4 433.5 580.9 434.3 580.3" fill="none" stroke="#5b5767" stroke-width="4" stroke-linecap="round" stroke-linejoin="round" />
<path d="M424.3 613.7C425.4 612.1 427.1 607.3 431 603.7C434.9 600.1 442.1 595.1 447.7 592C453.3 588.9 459.7 587.7 464.4 585.3C469.2 582.9 474.2 578.9 476.1 577.6" fill="none" stroke="#5b5767" stroke-width="4" stroke-linecap="round" stroke-linejoin="round" />
<path d="M467.8 540.2C468.9 542.1 471.7 546.9 474.5 551.9C477.2 556.9 481.7 564.7 484.5 570.3C487.3 575.8 490.1 582.8 491.2 585.3" fill="none" stroke="#5b5767" stroke-width="4" stroke-linecap="round" stroke-linejoin="round" />
<path d="M519.6 592C521.5 593.4 526 597.3 531.3 600.4C536.6 603.4 545.8 606.5 551.4 610.4C556.9 614.3 561.7 619.3 564.7 623.8C567.8 628.2 568.6 633.5 569.7 637.1C570.9 640.8 571.1 644.1 571.4 645.5" fill="none" stroke="#5b5767" stroke-width="4" stroke-linecap="round" stroke-linejoin="round" />
<path d="M554 764.2C553.9 767 553.8 775.3 553 780.9C552.3 786.5 550.5 792 549.7 797.6C548.8 803.2 547.6 808.8 548 814.3C548.4 819.9 550.5 824.6 552 831.1C553.6 837.5 556.5 849.2 557.4 852.8" fill="none" stroke="#5b5767" stroke-width="4" stroke-linecap="round" stroke-linejoin="round" />
<path d="M534.6 809.3C534.1 811.8 531.9 819.6 531.3 824.4C530.7 829.1 531 833.8 531.3 837.7C531.6 841.6 532.7 846.1 533 847.8" fill="none" stroke="#5b5767" stroke-width="4" stroke-linecap="round" stroke-linejoin="round" />
<circle cx="469.4" cy="694" r="36.4" fill="none" stroke="#f4ebde" stroke-width="7.4"/>
<ellipse cx="552.7" cy="709.7" rx="25.4" ry="31" fill="none" stroke="#f4ebde" stroke-width="7.2"/>
<path d="M508.6 694L525.3 699.3" fill="none" stroke="#f4ebde" stroke-width="6" stroke-linecap="round" stroke-linejoin="round" />
<path d="M363.1 641.8L444.4 661.2" fill="none" stroke="#f4ebde" stroke-width="6.8" stroke-linecap="round" stroke-linejoin="round" />
<path d="M326.5 771.1C324 766.8 321.4 770.1 313.8 771.9C306.1 773.7 288.7 779.1 280.6 782.1C272.5 785.1 273.8 785.7 265.3 789.7C256.8 793.8 240.6 800.6 229.6 806.3C218.5 812.1 207.5 818.2 199 824.2C190.5 830.1 185.4 836.5 178.6 842C171.8 847.6 164.1 851.8 158.2 857.3C152.2 862.9 148 869.3 142.9 875.2C137.8 881.2 133.1 885.8 127.6 893.1C122 900.3 115.2 910.1 109.7 918.6C104.2 927.1 99.5 935.6 94.4 944.1C89.3 952.6 83.3 961.1 79.1 969.6C74.8 978.1 71.4 986.6 68.9 995.1C66.3 1003.6 65.3 1012.1 63.8 1020.6C62.3 1029.1 61 1035.5 59.9 1046.1C58.9 1056.8 58.4 1071.6 57.4 1084.4C56.4 1097.1 55.2 1110.7 54.1 1122.7C53 1134.6 51.1 1139.8 50.8 1156C50.6 1172.3 51.8 1199.9 52.7 1220C53.7 1240.1 55.5 1257.7 56.5 1276.5C57.4 1295.3 58.4 1314.2 58.4 1333C58.4 1351.8 57.1 1370.6 56.5 1389.5C55.8 1408.3 53.9 1460.5 54.6 1445.9C55.3 1431.4 60.1 1311.1 60.6 1302C61.1 1292.9 59 1360.5 57.4 1391.3C55.8 1422.2 52.6 1455.1 51 1487C49.4 1518.9 48.4 1550.8 47.8 1582.7C47.3 1614.5 48.9 1646.4 47.8 1678.3C46.8 1710.2 43.6 1745.3 41.5 1774C39.3 1802.7 37.7 1826.3 35.1 1850.5C32.4 1874.7 25.5 1919.4 25.5 1919.4C25.5 1919.4 30.8 1925.6 47.8 1930.2C64.8 1934.9 98.3 1941.4 127.6 1947.4C156.8 1953.5 191.3 1961.9 223.2 1966.6C255.1 1971.3 292.3 1974.4 318.9 1975.5C345.5 1976.6 365.1 1974.4 382.7 1973C400.2 1971.5 415 1968.9 424.1 1966.6C433.2 1964.2 437.5 1958.9 437.5 1958.9C437.5 1958.9 438.4 1921.7 438.8 1901.5C439.2 1881.3 440.4 1864.3 440.1 1837.8C439.7 1811.2 438.5 1774 436.9 1742.1C435.3 1710.2 432.1 1681.5 430.5 1646.4C428.9 1611.4 428.4 1563.5 427.3 1531.6C426.2 1499.7 424.6 1481.7 424.1 1455.1C423.6 1428.5 424.2 1376.9 424.1 1372.2C424 1367.5 423.3 1427.4 423.6 1427.1C423.8 1426.8 425.5 1370.6 425.5 1370.6C425.5 1370.6 395.3 1156 395.3 1156C395.3 1156 390 1128.4 387.8 1110.8C385.6 1093.3 384.7 1068.2 382.2 1050.6C379.6 1033 376.2 1018 372.7 1005.4C369.3 992.9 364.3 983.8 361.4 975.3C358.6 966.8 356.5 958 355.8 954.6C355.1 951.2 359.4 967 357.4 954.8C355.5 942.5 348 901.8 344.1 881.2C340.2 860.6 336.5 845 334 831.1C331.5 817.1 330.3 807.6 329 797.6C327.8 787.6 329.1 775.4 326.5 771.1Z" fill="#f4ebde" stroke="#f4ebde" stroke-width="2"/>
<path d="M395.3 1156C395.3 1156 406 1146.6 414.2 1141C422.3 1135.3 435.5 1129 444.3 1122.1C453.1 1115.2 460 1105.8 466.9 1099.5C473.8 1093.3 478.8 1090.1 485.7 1084.5C492.6 1078.8 501.4 1071.6 508.3 1065.7C515.2 1059.7 527.1 1048.7 527.1 1048.7C527.1 1048.7 542.2 1054.4 542.2 1054.4C542.2 1054.4 548.4 1068.3 553 1076.1C557.6 1083.9 564.7 1093.9 569.8 1101.3C574.9 1108.8 580.1 1115.6 583.8 1121C587.6 1126.4 592.2 1133.6 592.2 1133.6C592.2 1133.6 701.7 1264.1 701.7 1264.1C701.7 1264.1 722.7 1246.7 722.7 1246.7C722.7 1246.7 747.8 1251 760.6 1252.9C773.5 1254.7 790.6 1256.3 799.9 1257.9C809.3 1259.6 812.9 1261.3 816.7 1262.7C820.6 1264.1 822.9 1266.3 822.9 1266.3C822.9 1266.3 799.8 1316.9 790.7 1333C781.5 1349.1 775 1354.3 768.1 1363.1C761.2 1371.9 755.5 1378.8 749.2 1385.7C743 1392.6 739.2 1398.2 730.4 1404.5C721.6 1410.8 711.6 1417.1 696.5 1423.3C681.5 1429.6 655.7 1437.5 640.1 1442.2C624.4 1446.9 613.1 1449.8 602.4 1451.6C591.7 1453.3 584.8 1454 576.1 1452.7C567.3 1451.5 549.7 1444.1 549.7 1444.1C549.7 1444.1 497 1299.1 497 1299.1C497 1299.1 493 1316.1 489.1 1323.6C485.2 1331 480.5 1337.6 473.6 1343.9C466.8 1350.2 456.1 1357.1 448 1361.6C440 1366.1 425.5 1370.6 425.5 1370.6C425.5 1370.6 395.3 1156 395.3 1156Z" fill="#f4ebde" stroke="#f4ebde" stroke-width="2"/>
<path d="M497 1295.3C497 1295.3 549.7 1442.2 549.7 1442.2C549.7 1442.2 552.4 1493.3 554.8 1518.9C557.3 1544.4 560.7 1574.1 564.4 1595.4C568.1 1616.7 572.9 1631.5 577.2 1646.4C581.4 1661.3 585.1 1674.1 589.9 1684.7C594.7 1695.3 600.6 1700.6 605.9 1710.2C611.2 1719.8 616.5 1729.3 621.8 1742.1C627.1 1754.8 632.4 1772.9 637.8 1786.7C643.1 1800.6 650 1813.3 653.7 1825C657.4 1836.7 657.7 1845.9 660.1 1856.9C662.4 1867.8 667.2 1883.7 667.7 1890.7C668.3 1897.7 665.7 1897.7 663.3 1899C660.8 1900.3 653.1 1898.3 653.1 1898.3C653.1 1898.3 643.1 1877.3 638.4 1867.7C633.7 1858.2 628.9 1850.4 625 1840.9C621.1 1831.5 617.7 1821.1 614.8 1811C611.9 1800.9 609.8 1788.9 607.8 1780.4C605.8 1771.9 606 1771.6 602.7 1759.9C599.4 1748.3 593.9 1724.9 588 1710.2C582.2 1695.5 575.3 1688.9 567.6 1671.9C559.9 1654.9 550.1 1631.5 542.1 1608.2C534.1 1584.8 524.6 1551.8 519.8 1531.6C515 1511.4 516.1 1510.4 513.4 1487C510.7 1463.6 506.5 1422.2 503.8 1391.3C501.2 1360.5 498.6 1318 497.4 1302C496.3 1286 497 1295.3 497 1295.3Z" fill="#f4ebde" stroke="#f4ebde" stroke-width="2"/>
<path d="M444.4 857.8C450.8 853.9 450.5 864.2 454.4 869.5C458.3 874.8 461.1 882 467.8 889.6C474.5 897.1 489 906 494.5 914.6C500 923.3 495.3 931.3 500.8 941.4C506.2 951.5 521.1 963.4 527.1 975.3C533.1 987.2 534 1000.1 536.5 1013C539 1025.8 542.2 1052.5 542.2 1052.5C542.2 1052.5 527.1 1048.7 527.1 1048.7C527.1 1048.7 466.9 1099.5 466.9 1099.5C466.9 1099.5 458.7 1065 455.6 1050.6C452.4 1036.2 451.8 1025.5 448 1013C444.3 1000.4 437.4 986.3 433 975.3C428.6 964.3 423.4 951.6 421.7 947.1C420 942.5 423 950.7 422.6 948.1C422.2 945.5 420.4 940.5 419.3 931.4C418.2 922.2 411.8 905.2 415.9 892.9C420.1 880.6 438 861.7 444.4 857.8Z" fill="#f4ebde" stroke="#f4ebde" stroke-width="2"/>
<path d="M282.4 952.7C279.2 950.2 273 943 263.6 937.7C254.1 932.3 240.3 925.4 225.9 920.7C211.5 916 190.8 910 177 909.4C163.2 908.8 153.7 912.9 143.1 916.9C132.4 921 121.1 926 113 933.9C104.8 941.7 98.8 952.1 94.1 964C89.4 975.9 86.9 991 84.7 1005.4C82.5 1019.9 81.1 1035.5 80.9 1050.6C80.8 1065.7 82 1080.7 83.6 1095.8C85.2 1110.8 87.9 1126.5 90.4 1141C92.9 1155.4 97.3 1175.5 98.6 1182.4" fill="none" stroke="#d5cab8" stroke-width="6" stroke-linejoin="round" stroke-linecap="butt"/>
<path d="M100.9 1199.3C102 1204 104 1217.8 107.3 1227.6C110.6 1237.3 115.1 1247.6 120.5 1257.7C125.8 1267.7 133 1277.8 139.3 1287.8C145.6 1297.8 152.5 1307.9 158.1 1317.9C163.8 1328 168.2 1339.3 173.2 1348C178.2 1356.8 182.9 1365 188.3 1370.6C193.6 1376.3 202.4 1380 205.2 1381.9" fill="none" stroke="#d5cab8" stroke-width="6" stroke-linejoin="round" stroke-linecap="butt"/>
<path d="M214.6 1391.3C217.7 1393.5 225.3 1401.1 233.4 1404.5C241.6 1408 252.3 1409.5 263.6 1412C274.8 1414.6 289.9 1419 301.2 1419.6C312.5 1420.2 321.3 1418.6 331.3 1415.8C341.4 1413 351.4 1407.7 361.4 1402.6C371.5 1397.6 381.8 1390.3 391.6 1385.7C401.3 1381.1 415.1 1376.9 419.8 1375.2" fill="none" stroke="#d5cab8" stroke-width="6" stroke-linejoin="round" stroke-linecap="butt"/>
<path d="M299.3 985.8C300.3 992.2 304.3 1011.6 305 1024.2C305.6 1036.9 304 1049.3 303.1 1061.9C302.1 1074.4 299.6 1086.4 299.3 1099.5C299 1112.7 299.9 1127.8 301.2 1141C302.5 1154.1 304.7 1166.4 306.9 1178.6C309 1190.9 314.4 1214.4 314.4 1214.4C314.4 1214.4 325.4 1206.5 331.3 1201.2C337.3 1195.9 343.9 1187.4 350.2 1182.4C356.4 1177.4 362.1 1174.8 369 1171.1C375.9 1167.3 387.8 1161.7 391.6 1159.8" fill="none" stroke="#d5cab8" stroke-width="6" stroke-linejoin="round" stroke-linecap="butt"/>
<path d="M225.9 1255.8C228.4 1253.6 234.7 1245.8 241 1242.6C247.2 1239.5 256.7 1239.4 263.6 1237C270.5 1234.6 279.2 1229.8 282.4 1228.3" fill="none" stroke="#d5cab8" stroke-width="6" stroke-linejoin="round" stroke-linecap="butt"/>
<path d="M233.4 1295.3C235.9 1292.5 244.1 1284.7 248.5 1278.4C252.9 1272.1 255.4 1263.6 259.8 1257.7C264.2 1251.7 269.2 1246.7 274.8 1242.6C280.5 1238.5 290.5 1234.8 293.7 1233.2" fill="none" stroke="#d5cab8" stroke-width="6" stroke-linejoin="round" stroke-linecap="butt"/>
<path d="M497 975.3C497.6 980.3 500.4 996 500.8 1005.4C501.1 1014.8 499.2 1022.7 498.9 1031.8C498.6 1040.9 498.9 1055.3 498.9 1060" fill="none" stroke="#d5cab8" stroke-width="6" stroke-linejoin="round" stroke-linecap="butt"/>
<path d="M506.4 1054.4C508.6 1051.5 514.9 1042.8 519.6 1037.4C524.3 1032.1 532.1 1024.9 534.6 1022.4" fill="none" stroke="#d5cab8" stroke-width="6" stroke-linejoin="round" stroke-linecap="butt"/>
<path d="M472.5 1093.9C475.3 1091.7 483.5 1085.4 489.5 1080.7C495.4 1076 502.3 1070.7 508.3 1065.7C514.2 1060.6 520.2 1052.2 525.2 1050.6C530.2 1049 536.2 1055.3 538.4 1056.2" fill="none" stroke="#d5cab8" stroke-width="6" stroke-linejoin="round" stroke-linecap="butt"/>
<path d="M517.7 1105.2C519 1108.6 521.8 1119.9 525.2 1125.9C528.7 1131.9 534 1135.9 538.4 1141C542.8 1146 547.3 1152.8 551.6 1156C555.8 1159.3 561.9 1159.8 564 1160.5" fill="none" stroke="#d5cab8" stroke-width="6" stroke-linejoin="round" stroke-linecap="butt"/>
<path d="M497 1293.4C498.9 1290.6 503.3 1282.5 508.3 1276.5C513.3 1270.5 520.8 1263.3 527.1 1257.7C533.4 1252 541.5 1246.4 545.9 1242.6C550.3 1238.9 552.2 1236.3 553.5 1235.1" fill="none" stroke="#d5cab8" stroke-width="6" stroke-linejoin="round" stroke-linecap="butt"/>
<path d="M582.8 1289.7C586.1 1287.8 594.1 1282.2 602.4 1278.4C610.7 1274.6 624.4 1269.8 632.5 1267.1C640.7 1264.4 648.2 1263 651.4 1262.2" fill="none" stroke="#d5cab8" stroke-width="6" stroke-linejoin="round" stroke-linecap="butt"/>
<path d="M726.7 1291.6C728.5 1292.8 733.6 1296.9 738 1299.1C742.3 1301.3 748 1301.6 753 1304.7C758 1307.9 763.4 1313.5 768.1 1317.9C772.8 1322.3 779.1 1328.9 781.2 1331.1" fill="none" stroke="#d5cab8" stroke-width="6" stroke-linejoin="round" stroke-linecap="butt"/>
<path d="M528.2 1285.9C528.6 1290.6 529.1 1304.4 530.1 1314.2C531.2 1323.9 534 1334.9 534.6 1344.3C535.3 1353.7 533.3 1361.8 533.9 1370.6C534.5 1379.4 536.7 1388.8 538.4 1397C540.1 1405.1 542.3 1413.3 544.1 1419.6C545.8 1425.9 548.1 1432.1 548.9 1434.6" fill="none" stroke="#d5cab8" stroke-width="6" stroke-linejoin="round" stroke-linecap="butt"/>
<path d="M457.5 956.5C458.7 961.5 463.1 975.3 465 986.6C466.9 997.9 467.5 1010.8 468.8 1024.2C470 1037.7 471.9 1060.3 472.5 1067.5" fill="none" stroke="#d5cab8" stroke-width="6" stroke-linejoin="round" stroke-linecap="butt"/>
<path d="M265.5 797.6C266.3 803.2 268.6 817.1 270.5 831.1C272.5 845 275.2 866.2 277.2 881.2C279.1 896.2 281.7 914.4 282.2 921.3C282.8 928.2 280.5 922.6 280.5 922.6C280.5 922.6 294.6 926.2 301.2 927.1C307.8 928 320 928.2 320 928.2C320 928.2 320.3 933.6 318.1 937.7C316 941.7 309 946.4 306.9 952.7C304.7 959 304 966.5 305 975.3C305.9 984.1 310 997.3 312.5 1005.4C315 1013.6 316.9 1016.7 320 1024.2C323.2 1031.8 327.6 1041.2 331.3 1050.6C335.1 1060 338.9 1070.7 342.6 1080.7C346.4 1090.8 350.7 1100.3 353.9 1110.8C357.2 1121.4 360.8 1138.5 362.2 1144" fill="none" stroke="#d5cab8" stroke-width="6" stroke-linejoin="round" stroke-linecap="butt"/>
<path d="M222 897.9C224 896.5 229.6 892.9 233.7 889.6C237.9 886.2 243.2 881.2 247.1 877.9C251 874.5 254.1 872.3 257.1 869.5C260.2 866.7 264.1 862.5 265.5 861.1" fill="none" stroke="#d5cab8" stroke-width="6" stroke-linejoin="round" stroke-linecap="butt"/>
<path d="M449.4 899.6C449.5 904.3 450.4 928 450.4 928C450.4 928 437.7 943.1 437.7 943.1C437.7 943.1 450.2 950 454.4 954.8C458.6 959.5 460.5 965.3 462.8 971.5C465 977.6 466.6 985.4 467.8 991.5C468.9 997.7 469.4 1005.5 469.8 1008.3" fill="none" stroke="#d5cab8" stroke-width="6" stroke-linejoin="round" stroke-linecap="butt"/>
<path d="M145 1370.6C144.6 1375.7 144.3 1390.1 143.1 1400.8C141.8 1411.4 138.8 1424 137.4 1434.6C136 1445.3 133.5 1475.4 134.8 1464.8C136.1 1454.1 144.3 1380 145.4 1370.9C146.5 1361.9 143.3 1396.4 141.6 1410.5C139.9 1424.5 136.5 1437 135.2 1455.1C133.9 1473.2 134.7 1495.5 133.9 1518.9C133.2 1542.3 132.9 1572 130.7 1595.4C128.6 1618.8 124 1640.1 121.2 1659.2C118.3 1678.3 114.4 1691.1 113.5 1710.2C112.7 1729.3 115.9 1752.7 116.1 1774C116.3 1795.2 115.9 1818.8 114.8 1837.8C113.7 1856.7 110.5 1879.2 109.7 1887.5" fill="none" stroke="#d5cab8" stroke-width="6" stroke-linejoin="round" stroke-linecap="butt"/>
<path d="M194.5 1662.4C193.8 1651.2 191.4 1617.2 190.1 1595.4C188.7 1573.6 186.5 1544.1 186.2 1531.6C185.9 1519.2 188.1 1520.8 188.1 1520.8C188.1 1520.8 241 1517.4 267.9 1517.6C294.7 1517.8 349.5 1522.1 349.5 1522.1C349.5 1522.1 349.8 1572.6 349.5 1595.4C349.2 1618.3 348.4 1644.8 347.6 1659.2C346.7 1673.5 347 1676.4 344.4 1681.5C341.7 1686.6 344.4 1687.7 331.6 1689.8C318.9 1691.9 289.1 1694.3 267.9 1694.3C246.6 1694.3 216 1691.9 204.1 1689.8C192.2 1687.7 197.7 1682.9 196.4 1681.5" fill="none" stroke="#d5cab8" stroke-width="6" stroke-linejoin="round" stroke-linecap="butt"/>
<path d="M207.3 1566.7C213.1 1566.2 230.1 1563.2 242.3 1563.5C254.6 1563.8 265.2 1568.4 280.6 1568.6C296 1568.8 325.8 1565.4 334.8 1564.8" fill="none" stroke="#d5cab8" stroke-width="6" stroke-linejoin="round" stroke-linecap="butt"/>
<path d="M443.2 1577.6C448 1577.1 463.4 1575 471.9 1575C480.4 1575 488.2 1577.9 494.3 1577.6C500.3 1577.2 506 1573.8 508.3 1573.1" fill="none" stroke="#5b5767" stroke-width="4" stroke-linecap="round" stroke-linejoin="round" />
<path d="M491.1 1716.6C488.4 1721.9 479.9 1736.8 475.1 1748.5C470.3 1760.2 465.6 1774 462.4 1786.7C459.2 1799.5 459.2 1813.3 456 1825C452.8 1836.7 445.4 1851.6 443.2 1856.9" fill="none" stroke="#5b5767" stroke-width="4" stroke-linecap="round" stroke-linejoin="round" />
<path d="M392.2 1971.7C390.6 1975.9 386.2 1988.9 382.7 1997.2C379.1 2005.5 373.1 2017.4 371.2 2021.4" fill="none" stroke="#5b5767" stroke-width="4" stroke-linecap="round" stroke-linejoin="round" />
<path d="M541.7 1056.4C542.2 1048.5 551.6 1037.7 555.8 1028.4C560 1019 563.7 1008.3 567 1000.3C570.3 992.4 570.3 985.6 575.4 980.7C580.6 975.8 590.4 973.4 597.9 970.8C605.3 968.3 613.8 966.4 620.3 965.2C626.9 964.1 631.5 963.1 637.1 963.8C642.8 964.5 649.1 966.6 654 969.4C658.9 972.2 663.6 976.9 666.6 980.7C669.7 984.4 671.4 986.7 672.2 991.9C673.1 997 672.4 1006.4 671.7 1011.5C671 1016.7 668.5 1018.6 668 1022.8C667.5 1027 664.8 1031.2 668.6 1036.8C672.3 1042.4 690.5 1056.4 690.5 1056.4C690.5 1056.4 648.4 1112.6 648.4 1112.6C648.4 1112.6 597.9 1136.4 597.9 1136.4C597.9 1136.4 588.5 1126.8 583.8 1121C579.2 1115.1 574.9 1108.8 569.8 1101.3C564.7 1093.9 557.6 1083.6 553 1076.1C548.3 1068.6 541.3 1064.4 541.7 1056.4Z" fill="#ff8f57" />
<path d="M632.9 1014.3L644.2 1008.7L651.7 1016Z" fill="#fff" />
<path d="M610.5 989.6L631.5 983.5L648.4 982.9L668.6 998.9" fill="none" stroke="#ff5226" stroke-width="2.6" stroke-linecap="round" stroke-linejoin="round" />
<path d="M623.7 1011L631.5 1012.9" fill="none" stroke="#ff5226" stroke-width="2.6" stroke-linecap="round" stroke-linejoin="round" />
<path d="M648.4 1017.7L666.6 1022.2" fill="none" stroke="#ff5226" stroke-width="2.6" stroke-linecap="round" stroke-linejoin="round" />
<path d="M632.9 1036.2L658.2 1045.2" fill="none" stroke="#ff5226" stroke-width="2.6" stroke-linecap="round" stroke-linejoin="round" />
<path d="M545.1 884.7L614.7 963.3" fill="none" stroke="#302d38" stroke-width="8.4" stroke-linecap="round" stroke-linejoin="round" />
<path d="M780.4 901.2L940.1 937.3L702.9 1263.8L537.7 1220Z" fill="#f4c254" stroke="#f4c254" stroke-width="12" stroke-linejoin="round"/>
<path d="M786.4 996.1C789.2 994.5 793 990.5 802.7 986.3C812.4 982.1 831.5 976 844.8 970.8C858.1 965.7 876.4 958 882.7 955.4" fill="none" stroke="#fbe07a" stroke-width="4" stroke-linecap="round" stroke-linejoin="round" />
<path d="M818.2 998.9C820.7 998.4 827.3 998.7 833.6 996.1C839.9 993.5 846.6 987.8 856 983.5C865.5 979.1 884.6 972.2 890.3 970" fill="none" stroke="#fbe07a" stroke-width="4" stroke-linecap="round" stroke-linejoin="round" />
<path d="M781.7 1045.8C780.2 1046.7 777.5 1049 776.9 1053.6C776.3 1058.2 777.2 1065.8 778 1073.3C778.8 1080.8 780.4 1090.6 781.7 1098.5C783 1106.5 785.9 1121 785.9 1121C785.9 1121 778.4 1106 774.7 1098.5C770.9 1091 766.5 1081.4 763.4 1076.1C760.4 1070.8 758.5 1068.8 756.4 1066.8C754.3 1064.9 752.4 1063.2 750.8 1064.3C749.2 1065.4 746.6 1068.5 746.6 1073.3C746.6 1078 748.7 1085.9 750.8 1092.9C752.9 1099.9 756.2 1107.6 759.2 1115.4C762.3 1123.1 769 1139.2 769 1139.2C769 1139.2 762 1127.8 757.8 1121C753.6 1114.2 747.5 1103.6 743.8 1098.5C740 1093.5 737.6 1092.1 735.4 1090.7C733.2 1089.3 732 1089 730.6 1090.1C729.2 1091.2 726.9 1093.4 726.9 1097.1C727 1100.9 728.8 1106.2 731.2 1112.6C733.5 1118.9 737.2 1126.6 741 1135C744.7 1143.4 753.6 1163.1 753.6 1163.1C753.6 1163.1 745.4 1151.6 741 1146.2C736.5 1140.9 730.7 1134.5 726.9 1130.8C723.2 1127.1 721 1125 718.5 1123.8C716.1 1122.6 713.9 1122.9 712.4 1123.8C710.9 1124.7 709.2 1126.6 709.5 1129.4C709.9 1132.2 711.9 1135.9 714.3 1140.6C716.8 1145.3 720.4 1150.9 724.1 1157.5C727.9 1164 734.3 1173.4 736.8 1179.9C739.2 1186.5 738.5 1191.1 738.7 1196.7C739 1202.4 739.2 1208 738.2 1213.6C737.1 1219.2 735.1 1224.9 732.6 1230.4C730 1235.9 722.7 1246.7 722.7 1246.7C722.7 1246.7 747.8 1251 760.6 1252.9C773.5 1254.7 799.9 1257.9 799.9 1257.9C799.9 1257.9 808.3 1231.7 811.1 1219.2C813.9 1206.7 815.1 1195.8 816.7 1182.7C818.4 1169.6 820.3 1154 821 1140.6C821.7 1127.3 821 1102.7 821 1102.7C821 1102.7 806.9 1114 806.9 1114C806.9 1114 804.4 1104.8 802.7 1098.5C801.1 1092.2 799.2 1083.1 797.1 1076.1C795 1069.1 792 1061.1 790.1 1056.4C788.2 1051.8 787.3 1049.8 785.9 1048C784.5 1046.2 783.2 1044.8 781.7 1045.8Z" fill="#ff8f57" />
<path d="M808.3 1121L811.1 1143.4" fill="none" stroke="#ff5226" stroke-width="2.8" stroke-linecap="round" stroke-linejoin="round" />
<path d="M2979.9 1561.6L2979.9 1632.1L2984 1720.1L2979.9 1808.1L2978.1 1866.8L2982.2 1954.8L2984 2042.8L2978.1 2129L3461 2129L3459.3 2083.8L3444.6 2060.4L3435.8 2025.2L3350.7 1808.1L3268.6 1561.6Z" fill="#76362e" />
<path d="M3079.1 1639.1C3081.3 1642.8 3087.9 1654.7 3092.6 1661.4C3097.2 1668 3103.3 1671.2 3107.2 1679C3111.1 1686.8 3111.6 1699 3116 1708.3C3120.4 1717.6 3127.3 1726.4 3133.6 1734.7C3140 1743 3150.7 1754.3 3154.2 1758.2" fill="none" stroke="#4f211c" stroke-width="3.2" stroke-linecap="round" stroke-linejoin="round" />
<path d="M3155.3 1599.8C3155.8 1605.2 3158.2 1620.8 3158.3 1632.1C3158.4 1643.3 3155.1 1655.5 3155.9 1667.3C3156.7 1679 3161 1690.7 3163 1702.5C3164.9 1714.2 3166.7 1726.4 3167.7 1737.7C3168.6 1748.9 3168.6 1764.6 3168.8 1769.9" fill="none" stroke="#4f211c" stroke-width="3.2" stroke-linecap="round" stroke-linejoin="round" />
<path d="M3259.8 1686C3257.3 1688.8 3250.5 1697.3 3245.1 1702.5C3239.7 1707.6 3233.4 1711.3 3227.5 1717.1C3221.6 1723 3216.3 1730.8 3209.9 1737.7C3203.5 1744.5 3192.8 1754.8 3189.4 1758.2" fill="none" stroke="#4f211c" stroke-width="3.2" stroke-linecap="round" stroke-linejoin="round" />
<path d="M3212.8 1765.8C3216.3 1764.6 3226 1760.7 3233.4 1758.2C3240.7 1755.7 3249.2 1752.7 3256.8 1750.6C3264.5 1748.4 3275.4 1746.2 3279.1 1745.3" fill="none" stroke="#4f211c" stroke-width="3.2" stroke-linecap="round" stroke-linejoin="round" />
<path d="M3172.9 1857.9C3172.5 1869.2 3170.5 1904.4 3170.6 1925.4C3170.7 1946.5 3172.8 1964.5 3173.5 1984.1C3174.2 2003.7 3173.5 2026.2 3174.7 2042.8C3175.9 2059.4 3179.1 2069.5 3180.6 2083.8C3182 2098.2 3183 2121.5 3183.5 2129" fill="none" stroke="#4f211c" stroke-width="3.2" stroke-linecap="round" stroke-linejoin="round" />
<path d="M3427 2031C3425.5 2035 3421.1 2044.7 3418.2 2054.5C3415.3 2064.3 3412.8 2080.9 3409.4 2089.7C3406 2098.5 3400.6 2100.8 3397.7 2107.3C3394.7 2113.9 3392.8 2125.4 3391.8 2129" fill="none" stroke="#4f211c" stroke-width="3.2" stroke-linecap="round" stroke-linejoin="round" />
<path d="M3424.1 2103.2C3424.1 2107.5 3424.1 2124.7 3424.1 2129" fill="none" stroke="#4f211c" stroke-width="3.2" stroke-linecap="round" stroke-linejoin="round" />
<path d="M3219 690.4L3335.3 690.4L3336.7 774.2L3354.2 771.5L3376.4 781.3L3363.3 855L3348.1 889.2L3177.1 889.2L3177.1 851.2L3186.6 843.7L3197.4 804L3209.6 774.8L3218.5 768.8Z" fill="#ff8f57" />
<path d="M3216.3 767.5C3216.3 767.5 3228.5 768 3235.3 766.9C3242 765.9 3249.7 763.7 3256.9 761.3C3264.1 758.8 3271.8 755.9 3278.5 752.1C3285.3 748.3 3291.6 743.5 3297.5 738.6C3303.3 733.6 3308.9 728.1 3313.7 722.3C3318.5 716.6 3326.4 703.9 3326.4 703.9C3326.4 703.9 3316.7 731.9 3311 744.5C3305.3 757.1 3298.8 769.3 3292 779.7C3285.3 790 3276.3 800.6 3270.4 806.7C3264.6 812.8 3261.4 814.4 3256.9 816.2C3252.4 818 3247.9 818.6 3243.4 817.5C3238.9 816.4 3233.9 813 3229.9 809.4C3225.8 805.8 3221.4 800.8 3219 795.9C3216.7 790.9 3216.2 784.4 3215.8 779.7C3215.3 774.9 3216.3 767.5 3216.3 767.5Z" fill="#ff6b3d" />
<path d="M3184.7 848.2C3184.7 848.2 3205 862.1 3215.1 866.4C3225.2 870.7 3234.7 872.6 3245.5 874C3256.3 875.5 3267.7 875.8 3279.7 875.2C3291.7 874.5 3305.2 873.7 3317.7 870.2C3330.2 866.7 3355 854.3 3355 854.3C3355 854.3 3310.1 1292.1 3310.1 1292.1C3310.1 1292.1 3290.6 1280 3290.6 1280C3290.6 1280 3285.7 1340.8 3285.7 1340.8C3285.7 1340.8 3125.3 1417.6 3125.3 1417.6C3125.3 1417.6 3115.8 1409.2 3115.8 1409.2C3115.8 1409.2 3131.5 1292.1 3131.5 1292.1C3131.5 1292.1 3165.7 1102.1 3165.7 1102.1C3165.7 1102.1 3167.6 912 3167.6 912C3167.6 912 3184.7 848.2 3184.7 848.2Z" fill="#485f97" />
<path d="M3198 886.2C3200.2 888 3205.3 893.8 3211.3 896.8C3217.3 899.9 3226.5 902.5 3234.1 904.4C3241.7 906.3 3249.3 908.2 3256.9 908.2C3264.5 908.2 3272.1 905.2 3279.7 904.4C3287.3 903.7 3298.7 903.8 3302.5 903.7" fill="none" stroke="#3d5290" stroke-width="4" stroke-linecap="round" stroke-linejoin="round" />
<path d="M3179 1259.8C3180.6 1262.6 3186.3 1270.9 3188.5 1276.9C3190.7 1282.9 3190.1 1290.2 3192.3 1295.9C3194.5 1301.6 3198.3 1306.7 3201.8 1311.1C3205.3 1315.5 3210.5 1319 3213.2 1322.5C3215.9 1326 3217.3 1330.4 3218.1 1332" fill="none" stroke="#3d5290" stroke-width="3.5" stroke-linecap="round" stroke-linejoin="round" />
<path d="M3177.8 1288.3C3178.3 1291.5 3179.1 1301.6 3180.9 1307.3C3182.7 1313 3187 1319.3 3188.5 1322.5C3189.9 1325.7 3189.4 1325.7 3189.6 1326.3" fill="none" stroke="#3d5290" stroke-width="3.5" stroke-linecap="round" stroke-linejoin="round" />
<path d="M3209.4 773.3C3209.4 773.3 3186.9 773.9 3177.1 775.2C3167.3 776.5 3160 778.1 3150.5 780.9C3141 783.8 3131.5 788.5 3120.1 792.3C3108.7 796.1 3094.7 799.6 3082.1 803.7C3069.4 807.8 3056.7 811.6 3044.1 817C3031.4 822.4 3017.5 829 3006 836C2994.6 843 2983.9 850.6 2975.6 858.8C2967.4 867.1 2961.4 875.9 2956.6 885.4C2951.9 894.9 2949 905.1 2947.1 915.8C2945.2 926.6 2945.9 938 2945.2 950C2944.6 962.1 2945.2 975.4 2943.3 988C2941.4 1000.7 2937.3 1013.4 2933.8 1026C2930.4 1038.7 2926.2 1051.4 2922.4 1064.1C2918.6 1076.7 2915.5 1089.4 2911 1102.1C2906.6 1114.7 2900.6 1127.4 2895.8 1140.1C2891.1 1152.7 2886.6 1165.4 2882.5 1178.1C2878.4 1190.7 2874.6 1203.4 2871.1 1216.1C2867.6 1228.8 2863.8 1241.4 2861.6 1254.1C2859.4 1266.8 2859.7 1280.7 2857.8 1292.1C2855.9 1303.5 2851.6 1316.3 2850.2 1322.5C2848.9 1328.7 2852.7 1323.8 2849.8 1329.4C2846.8 1335 2839.9 1345.9 2832.7 1356C2825.4 1366.1 2814.9 1379.5 2806 1390.2C2797.2 1401 2787.4 1411.8 2779.4 1420.6C2771.5 1429.5 2763.9 1436.8 2758.5 1443.4C2753.2 1450.1 2749.6 1456.2 2747.1 1460.5C2744.7 1464.8 2743.7 1469.3 2743.7 1469.3C2743.7 1469.3 2806 1481.4 2806 1481.4C2806 1481.4 2863.1 1462.4 2863.1 1462.4C2863.1 1462.4 2920.1 1458.6 2920.1 1458.6C2920.1 1458.6 2977.1 1473.8 2977.1 1473.8C2977.1 1473.8 3015.1 1466.2 3015.1 1466.2C3015.1 1466.2 3123.4 1411.1 3123.4 1411.1C3123.4 1411.1 3130.1 1372.8 3132.9 1356C3135.8 1339.2 3138.6 1323.1 3140.5 1310.4C3142.4 1297.7 3143.3 1288.1 3144.3 1280C3145.3 1271.9 3145 1272.3 3146.7 1261.7C3148.3 1251 3151.7 1230 3154.3 1216.1C3156.8 1202.1 3159.3 1192 3161.9 1178.1C3164.4 1164.1 3167.7 1148.3 3169.5 1132.5C3171.3 1116.6 3171.9 1100.8 3172.5 1083.1C3173.2 1065.3 3173.3 1045.1 3173.3 1026C3173.3 1007 3172.5 988 3172.5 969C3172.5 950 3171.9 927.9 3173.3 912C3174.7 896.2 3178 884.2 3180.9 874C3183.7 863.9 3186.3 860.7 3190.4 851.2C3194.5 841.7 3202.4 830 3205.6 817C3208.8 804 3209.4 773.3 3209.4 773.3Z" fill="#f4ebde" stroke="#f4ebde" stroke-width="2"/>
<path d="M3373.6 780.9C3373.6 780.9 3348.1 775.2 3348.1 775.2C3348.1 775.2 3363.3 763.8 3363.3 763.8C3363.3 763.8 3378.6 771.2 3386.9 774.1C3395.1 776.9 3405.6 778.1 3412.7 780.9C3419.8 783.8 3423.9 787.2 3429.4 791.2C3435 795.2 3437.6 799.3 3446.2 804.8C3454.8 810.4 3469 818.2 3481.1 824.6C3493.3 831.1 3506.5 836 3519.1 843.6C3531.8 851.2 3545.7 860.7 3557.1 870.2C3568.6 879.7 3579.3 891.1 3587.6 900.6C3595.8 910.1 3601.8 917.7 3606.6 927.2C3611.3 936.7 3614.2 947.5 3616.1 957.6C3618 967.8 3617 976.6 3618 988C3618.9 999.4 3621.3 1013.4 3621.8 1026C3622.3 1038.7 3622 1051.4 3621 1064.1C3620.1 1076.7 3617.8 1089.4 3616.1 1102.1C3614.3 1114.7 3611.9 1127.4 3610.4 1140.1C3608.8 1152.7 3607.8 1165.4 3606.6 1178.1C3605.3 1190.7 3603.7 1203.4 3602.8 1216.1C3601.8 1228.8 3601.8 1241.4 3600.9 1254.1C3599.9 1266.8 3598.6 1279.4 3597.1 1292.1C3595.5 1304.8 3594.3 1319.4 3591.4 1330.1C3588.4 1340.8 3584.5 1346 3579.6 1356.3C3574.7 1366.5 3567.3 1380.7 3562 1391.5C3556.6 1402.2 3551.2 1410.1 3547.3 1420.8C3543.4 1431.6 3541.9 1446.2 3538.5 1456C3535.1 1465.8 3531.8 1472.2 3526.8 1479.5C3521.7 1486.8 3509.4 1491.2 3508 1500C3506.5 1508.8 3514.3 1520.1 3517.9 1532.3C3521.6 1544.5 3526.3 1558.7 3529.7 1573.4C3533.1 1588 3536 1604.7 3538.5 1620.3C3540.9 1636 3543.2 1652.6 3544.4 1667.3C3545.5 1681.9 3546.5 1694.6 3545.5 1708.3C3544.5 1722 3540.6 1734.7 3538.5 1749.4C3536.3 1764.1 3534.6 1780.7 3532.6 1796.3C3530.7 1812 3527.7 1827.6 3526.8 1843.3C3525.8 1858.9 3527.7 1876.5 3526.8 1890.2C3525.8 1903.9 3523.8 1914.7 3520.9 1925.4C3517.9 1936.2 3513.1 1944 3509.1 1954.8C3505.2 1965.5 3501.3 1977.3 3497.4 1990C3493.5 2002.7 3489.6 2017.4 3485.7 2031C3481.8 2044.7 3477.4 2063.8 3473.9 2072.1C3470.5 2080.4 3469.1 2080.4 3465.1 2080.9C3461.2 2081.4 3454.4 2079.4 3450.5 2075C3446.6 2070.6 3444.1 2062.8 3441.7 2054.5C3439.2 2046.2 3439.2 2036.9 3435.8 2025.2C3432.4 2013.4 3426.5 1996.8 3421.1 1984.1C3415.8 1971.4 3410.4 1960.6 3403.5 1948.9C3396.7 1937.2 3387.9 1926.4 3380.1 1913.7C3372.2 1901 3363.4 1885.3 3356.6 1872.6C3349.7 1859.9 3343.9 1850.1 3339 1837.4C3334.1 1824.7 3331.2 1810 3327.3 1796.3C3323.3 1782.7 3319.9 1769.9 3315.5 1755.3C3311.1 1740.6 3305.7 1724 3300.9 1708.3C3296 1692.7 3290.1 1676.1 3286.2 1661.4C3282.3 1646.7 3279.3 1634 3277.4 1620.3C3275.4 1606.6 3274.4 1579.2 3274.4 1579.2C3274.4 1579.2 3250 1581.2 3233.4 1582.2C3216.8 1583.2 3194.3 1583.2 3174.7 1585.1C3155.1 1587.1 3132.6 1590.8 3116 1593.9C3099.4 1597 3075 1603.9 3075 1603.9C3075 1603.9 3069.6 1585.3 3066.2 1573.4C3062.7 1561.4 3058.8 1545 3054.4 1532.3C3050 1519.6 3046.1 1508.8 3039.7 1497.1C3033.4 1485.4 3016.3 1461.9 3016.3 1461.9C3016.3 1461.9 3024.8 1452.2 3034.1 1447.2C3043.4 1442.3 3057.2 1438 3072.1 1432C3087 1426 3123.4 1411.1 3123.4 1411.1C3123.4 1411.1 3137 1402.6 3144.3 1397.8C3151.6 1393.1 3157 1388.6 3167.1 1382.6C3177.2 1376.6 3192.5 1367.1 3205.1 1361.7C3217.8 1356.3 3230.5 1354.4 3243.1 1350.3C3255.8 1346.2 3281.1 1337 3281.1 1337C3281.1 1337 3284.1 1290.7 3284.9 1280C3285.8 1269.3 3286.1 1280.6 3286.2 1273.1C3286.2 1265.6 3285.8 1247.8 3285.4 1235.1C3285 1222.4 3284.4 1209.7 3283.5 1197.1C3282.5 1184.4 3281 1171.7 3279.7 1159.1C3278.4 1146.4 3276.2 1133.7 3275.9 1121.1C3275.6 1108.4 3276.5 1097.6 3277.8 1083.1C3279.1 1068.5 3281.6 1048.2 3283.5 1033.6C3285.4 1019.1 3287 1007 3289.2 995.6C3291.4 984.2 3293.3 974.7 3296.8 965.2C3300.3 955.7 3305.4 947.5 3310.1 938.6C3314.9 929.8 3320.2 921.5 3325.3 912C3330.4 902.5 3336.4 890.8 3340.5 881.6C3344.6 872.4 3347.5 865.2 3350 856.9C3352.5 848.7 3353.5 840.8 3355.7 832.2C3357.9 823.7 3360.3 814.2 3363.3 805.6C3366.3 797.1 3373.6 780.9 3373.6 780.9Z" fill="#f4ebde" stroke="#f4ebde" stroke-width="2"/>
<path d="M3136 792.3C3135.6 796.4 3134.8 807.8 3133.4 817C3132 826.2 3129.9 837.3 3127.7 847.4C3125.5 857.6 3122 869.9 3120.1 877.8C3118.2 885.7 3115.6 890.8 3116.3 894.9C3116.9 899 3119.4 901.6 3123.9 902.5C3128.3 903.5 3139.4 899.7 3142.9 900.6C3146.4 901.6 3146 903.8 3144.8 908.2C3143.5 912.7 3138.8 920.9 3135.3 927.2C3131.8 933.6 3126.6 940.5 3123.9 946.2C3121.1 951.9 3119.2 955.1 3118.9 961.4C3118.6 967.8 3120.5 976.6 3122 984.2C3123.4 991.8 3125.8 998.8 3127.7 1007C3129.6 1015.3 3132.1 1024.1 3133.4 1033.6C3134.6 1043.2 3134.8 1054.6 3135.3 1064.1C3135.7 1073.6 3135.1 1082.4 3136 1090.7C3137 1098.9 3138.9 1106.2 3141 1113.5C3143.1 1120.7 3146.5 1128 3148.6 1134.4C3150.7 1140.7 3152.6 1146.2 3153.5 1151.5C3154.5 1156.7 3154.1 1163.5 3154.3 1165.9" fill="none" stroke="#d5cab8" stroke-width="5" stroke-linejoin="round" stroke-linecap="butt"/>
<path d="M2981.3 908.2C2982.6 910.4 2985.8 917.4 2988.9 921.5C2992.1 925.6 2996.9 928.8 3000.3 932.9C3003.8 937 3006.4 942.4 3009.8 946.2C3013.3 950 3019.4 954.2 3021.3 955.7" fill="none" stroke="#d5cab8" stroke-width="5" stroke-linejoin="round" stroke-linecap="butt"/>
<path d="M2964.2 940.5C2965.5 942.4 2968.7 948.8 2971.8 951.9C2975 955.1 2979.4 956.7 2983.2 959.5C2987 962.4 2990.8 965.6 2994.6 969C2998.4 972.5 3002.6 977.6 3006 980.4C3009.5 983.3 3014 985.2 3015.6 986.1" fill="none" stroke="#d5cab8" stroke-width="5" stroke-linejoin="round" stroke-linecap="butt"/>
<path d="M3029.6 988.8C3029.5 993.7 3029.6 1008.4 3028.9 1018.4C3028.1 1028.5 3026.6 1038.1 3025.1 1048.9C3023.5 1059.6 3021.4 1071.7 3019.4 1083.1C3017.3 1094.5 3014.6 1106.5 3012.9 1117.3C3011.2 1128 3009.9 1137.5 3009.1 1147.7C3008.3 1157.8 3007.8 1167.9 3007.9 1178.1C3008.1 1188.2 3009.4 1198.3 3009.8 1208.5C3010.3 1218.6 3010.7 1228.8 3010.6 1238.9C3010.5 1249 3009.8 1259.2 3009.1 1269.3C3008.3 1279.4 3007.2 1290.2 3006 1299.7C3004.9 1309.2 3003.8 1316.9 3002.2 1326.3C3000.7 1335.7 2997.5 1351 2996.5 1355.9" fill="none" stroke="#d5cab8" stroke-width="5" stroke-linejoin="round" stroke-linecap="butt"/>
<path d="M2892 1253.3C2893.9 1254.7 2899 1258.7 2903.4 1261.7C2907.9 1264.7 2912.9 1269 2918.6 1271.2C2924.3 1273.4 2932.9 1273.1 2937.6 1275C2942.4 1276.9 2944.4 1279.9 2947.1 1282.6C2949.9 1285.3 2952.8 1289.9 2954 1291.3" fill="none" stroke="#d5cab8" stroke-width="5" stroke-linejoin="round" stroke-linecap="butt"/>
<path d="M3431.7 817.8C3430.8 822.1 3428.2 835.5 3426 843.6C3423.8 851.7 3420.6 859.8 3418.4 866.4C3416.2 873.1 3415.3 880 3412.7 883.5C3410.2 887 3407.7 887.5 3403.2 887.3C3398.8 887.1 3391.5 883.5 3386.1 882.4C3380.7 881.3 3373.4 879.7 3370.9 880.9C3368.4 882 3369.6 885.6 3370.9 889.2C3372.2 892.8 3375.3 898.1 3378.5 902.5C3381.7 907 3387.9 911.7 3389.9 915.8C3391.9 919.9 3391.9 921.5 3390.7 927.2C3389.4 932.9 3385.3 942.4 3382.3 950C3379.3 957.6 3375.3 964.6 3372.8 972.8C3370.3 981.1 3370 990.6 3367.1 999.4C3364.3 1008.3 3360.1 1017.2 3355.7 1026C3351.3 1034.9 3346.2 1043.2 3340.5 1052.7C3334.8 1062.2 3327.8 1073.6 3321.5 1083.1C3315.2 1092.6 3307.6 1101.4 3302.5 1109.7C3297.4 1117.9 3293.8 1125.2 3291.1 1132.5C3288.4 1139.8 3287 1149.9 3286.2 1153.4" fill="none" stroke="#d5cab8" stroke-width="5" stroke-linejoin="round" stroke-linecap="butt"/>
<path d="M3574.3 930.3C3569.5 930.1 3554.3 928.4 3545.7 929.1C3537.2 929.9 3530.5 931.3 3522.9 934.8C3515.3 938.3 3508.4 944.3 3500.1 950C3491.9 955.7 3481.8 962.1 3473.5 969C3465.3 976 3457.7 983.6 3450.7 991.8C3443.8 1000.1 3437.4 1008.3 3431.7 1018.4C3426 1028.6 3420.6 1040.6 3416.5 1052.7C3412.4 1064.7 3409.6 1078.6 3407 1090.7C3404.5 1102.7 3403.9 1113.5 3401.3 1124.9C3398.8 1136.3 3395.6 1148.3 3391.8 1159.1C3388 1169.8 3383.3 1179.3 3378.5 1189.5C3373.8 1199.6 3367.7 1209.7 3363.3 1219.9C3358.9 1230 3354.6 1241.4 3351.9 1250.3C3349.3 1259.2 3348.6 1266.6 3347.4 1273.1C3346.1 1279.6 3344.8 1286.7 3344.3 1289.4" fill="none" stroke="#d5cab8" stroke-width="5" stroke-linejoin="round" stroke-linecap="butt"/>
<path d="M3360.3 1277.7C3363.3 1276.9 3372.9 1273.3 3378.5 1273.1C3384.1 1272.8 3388.8 1275.5 3393.7 1276.1C3398.7 1276.8 3405.8 1276.8 3408.2 1276.9" fill="none" stroke="#d5cab8" stroke-width="5" stroke-linejoin="round" stroke-linecap="butt"/>
<path d="M3362.2 1298.9C3363.6 1298.1 3366.9 1294.5 3370.9 1294C3374.9 1293.5 3380.4 1295.7 3386.1 1295.9C3391.8 1296.1 3398.8 1294.5 3405.1 1295.1C3411.5 1295.8 3418.4 1299.2 3424.1 1299.7C3429.8 1300.2 3436.8 1298.4 3439.3 1298.2" fill="none" stroke="#d5cab8" stroke-width="5" stroke-linejoin="round" stroke-linecap="butt"/>
<path d="M3290.3 1334.7C3293.6 1333.3 3304.3 1329.9 3310.1 1326.3C3315.9 1322.7 3320.6 1316.5 3325.3 1313C3330.1 1309.5 3335.3 1307.1 3338.6 1305.4C3342 1303.7 3344.3 1303.2 3345.5 1302.7" fill="none" stroke="#d5cab8" stroke-width="5" stroke-linejoin="round" stroke-linecap="butt"/>
<path d="M3290.3 1334.6C3294.5 1332.3 3306.4 1326.3 3315.5 1321.1C3324.6 1315.9 3340 1306.4 3344.9 1303.5" fill="none" stroke="#d5cab8" stroke-width="5" stroke-linejoin="round" stroke-linecap="butt"/>
<path d="M3361.3 1296.4C3363.9 1295.8 3370.1 1292.7 3377.1 1292.9C3384.2 1293.1 3393.3 1296.6 3403.5 1297.6C3413.8 1298.6 3432.9 1298.6 3438.7 1298.8" fill="none" stroke="#d5cab8" stroke-width="5" stroke-linejoin="round" stroke-linecap="butt"/>
<path d="M3277.4 1582.2C3281.8 1578.8 3293.5 1567.5 3303.8 1561.6C3314.1 1555.8 3326.3 1550.9 3339 1547C3351.7 1543.1 3365.4 1541.1 3380.1 1538.2C3394.7 1535.2 3412.3 1533.8 3427 1529.4C3441.7 1525 3456.3 1516.7 3468.1 1511.8C3479.8 1506.9 3492.5 1502 3497.4 1500" fill="none" stroke="#d5cab8" stroke-width="5" stroke-linejoin="round" stroke-linecap="butt"/>
<path d="M3525.6 1582.2C3522.4 1577 3506.2 1551.1 3506.2 1551.1C3506.2 1551.1 3481.3 1559.4 3468.1 1564.6C3454.9 1569.8 3439.7 1576.3 3427 1582.2C3414.3 1588 3391.8 1599.8 3391.8 1599.8C3391.8 1599.8 3397.7 1620.8 3403.5 1632.1C3409.4 1643.3 3419.2 1654.5 3427 1667.3C3434.8 1680 3442.7 1694.6 3450.5 1708.3C3458.3 1722 3467.6 1737.7 3473.9 1749.4C3480.3 1761.1 3483.7 1772.4 3488.6 1778.7C3493.5 1785.1 3498.1 1787.3 3503.3 1787.5C3508.5 1787.7 3517 1781.2 3519.7 1779.9" fill="none" stroke="#d5cab8" stroke-width="5" stroke-linejoin="round" stroke-linecap="butt"/>
<path d="M3424.1 1636.2C3428.5 1634.5 3441.2 1630.3 3450.5 1626.2C3459.8 1622.1 3469.5 1616.2 3479.8 1611.5C3490.1 1606.8 3506.7 1600.3 3512.1 1598" fill="none" stroke="#d5cab8" stroke-width="5" stroke-linejoin="round" stroke-linecap="butt"/>
<path d="M3344.9 1667.3C3348.8 1672.1 3360.5 1685.8 3368.3 1696.6C3376.2 1707.4 3383 1722 3391.8 1731.8C3400.6 1741.6 3412.3 1746.5 3421.1 1755.3C3429.9 1764.1 3437.8 1776.3 3444.6 1784.6C3451.5 1792.9 3459.3 1801.7 3462.2 1805.1" fill="none" stroke="#d5cab8" stroke-width="5" stroke-linejoin="round" stroke-linecap="butt"/>
<path d="M3427 1799.3C3429 1802.7 3435.3 1813.5 3438.7 1819.8C3442.2 1826.2 3443.6 1831.7 3447.5 1837.4C3451.5 1843.1 3459.8 1851.1 3462.2 1853.8" fill="none" stroke="#d5cab8" stroke-width="5" stroke-linejoin="round" stroke-linecap="butt"/>
<path d="M3095.5 1453.1C3097.9 1457.5 3105.8 1469.2 3110.2 1479.5C3114.6 1489.8 3118 1503 3121.9 1514.7C3125.8 1526.4 3129.5 1540.1 3133.6 1549.9C3137.7 1559.7 3144.4 1569.5 3146.5 1573.4" fill="none" stroke="#d5cab8" stroke-width="5" stroke-linejoin="round" stroke-linecap="butt"/>
<path d="M3015.1 1456C3020.2 1452.6 3034.7 1440.9 3045.6 1435.5C3056.6 1430.1 3068.6 1427.4 3080.8 1423.8C3093 1420.1 3112.6 1415.4 3119 1413.8" fill="none" stroke="#d5cab8" stroke-width="5" stroke-linejoin="round" stroke-linecap="butt"/>
<path d="M3009.2 1280C3008.5 1285.9 3006.8 1302.5 3004.5 1315.2C3002.3 1327.9 2996.7 1342.6 2995.7 1356.3C2994.8 1370 3000.1 1384.6 2998.7 1397.4C2997.2 1410.1 2990.7 1422.8 2986.9 1432.6C2983.2 1442.3 2978.1 1452.1 2976.4 1456" fill="none" stroke="#d5cab8" stroke-width="5" stroke-linejoin="round" stroke-linecap="butt"/>
<path d="M3023.9 1373.9C3026.5 1376.8 3034.2 1384.6 3039.7 1391.5C3045.3 1398.3 3054.4 1411 3057.4 1415" fill="none" stroke="#d5cab8" stroke-width="5" stroke-linejoin="round" stroke-linecap="butt"/>
<path d="M3023.9 1402C3025.3 1405.2 3030.8 1417.7 3032.1 1420.8" fill="none" stroke="#d5cab8" stroke-width="5" stroke-linejoin="round" stroke-linecap="butt"/>
<path d="M3265 448.4C3272.2 447.9 3279.9 451.9 3286.6 452.4C3293.4 453 3297.9 451.2 3305.6 451.9C3313.2 452.6 3324 454.4 3332.6 456.5C3341.2 458.6 3349.3 460.8 3356.9 464.6C3364.6 468.4 3372.7 473.9 3378.6 479.5C3384.4 485.1 3387.6 492.6 3392.1 498.4C3396.6 504.3 3400.7 508.8 3405.6 514.6C3410.6 520.5 3418.2 526.8 3421.8 533.6C3425.5 540.3 3426.6 547.1 3427.3 555.2C3427.9 563.3 3425.9 573.2 3425.9 582.2C3425.9 591.3 3426.6 600.7 3427.3 609.3C3427.9 617.9 3428.2 626.4 3430 633.6C3431.8 640.8 3436.3 646.2 3438.1 652.6C3439.9 658.9 3441 665.2 3440.8 671.5C3440.6 677.8 3436.9 684.1 3436.7 690.4C3436.5 696.7 3440.1 703.5 3439.4 709.3C3438.8 715.2 3436.5 721.1 3432.7 725.6C3428.8 730.1 3422.3 732.8 3416.4 736.4C3410.6 740 3403.8 743.6 3397.5 747.2C3391.2 750.8 3384.4 755.1 3378.6 758C3372.7 761 3367.3 762.5 3362.4 764.8C3357.4 767 3353.3 769.9 3348.8 771.5C3344.3 773.2 3335.3 774.8 3335.3 774.8C3335.3 774.8 3333.7 765.3 3332.6 758C3331.5 750.7 3329.7 739.5 3328.6 731C3327.4 722.4 3325.9 706.6 3325.9 706.6C3325.9 706.6 3324.7 693.1 3311 690.4C3297.2 687.7 3263.7 685.9 3243.4 690.4C3223.1 694.9 3200.3 708.1 3189.3 717.5C3178.2 726.8 3177.1 746.4 3177.1 746.4C3177.1 746.4 3167.4 746.4 3162.2 744.5C3157.1 742.6 3151.9 738.2 3146 735C3140.2 731.9 3133 729 3127.1 725.6C3121.2 722.2 3114.3 719.3 3110.9 714.8C3107.5 710.2 3107.3 704.8 3106.8 698.5C3106.4 692.2 3107.3 684.1 3108.2 676.9C3109.1 669.7 3110.4 662 3112.2 655.3C3114 648.5 3117.4 643.1 3119 636.3C3120.6 629.6 3121 621.9 3121.7 614.7C3122.4 607.5 3121.7 600.3 3123 593.1C3124.4 585.9 3126.9 578.6 3129.8 571.4C3132.7 564.2 3137 556.1 3140.6 549.8C3144.2 543.5 3147.8 539.4 3151.4 533.6C3155 527.7 3158.6 521 3162.2 514.6C3165.9 508.3 3169 501.1 3173.1 495.7C3177.1 490.3 3181.2 486.3 3186.6 482.2C3192 478.1 3199.2 474.3 3205.5 471.4C3211.8 468.4 3218.1 467.3 3224.4 464.6C3230.8 461.9 3236.6 457.9 3243.4 455.2C3250.1 452.4 3257.8 448.8 3265 448.4Z" fill="#76362e" />
<path d="M3194.7 498.4C3200.1 496.6 3210.5 498 3216.3 498.4C3222.2 498.9 3226.2 500 3229.9 501.1C3233.5 502.3 3234.4 502.9 3238 505.2C3241.6 507.4 3246.1 511.9 3251.5 514.6C3256.9 517.3 3263.7 519.4 3270.4 521.4C3277.2 523.4 3285.3 524.3 3292 526.8C3298.8 529.3 3306 530.6 3311 536.3C3315.9 541.9 3319.1 552.1 3321.8 560.6C3324.5 569.2 3326.1 578.6 3327.2 587.7C3328.3 596.7 3327.7 606.6 3328.6 614.7C3329.5 622.8 3331.7 628.2 3332.6 636.3C3333.5 644.4 3334.2 655.3 3334 663.4C3333.7 671.5 3332.6 678.2 3331.3 685C3329.9 691.8 3328.8 697.6 3325.9 703.9C3322.9 710.2 3318.4 717 3313.7 722.9C3309 728.7 3303.3 734.1 3297.5 739.1C3291.6 744 3285.3 748.8 3278.5 752.6C3271.8 756.4 3264.1 759.6 3256.9 762.1C3249.7 764.6 3242 766.4 3235.3 767.5C3228.5 768.6 3222.2 769.7 3216.3 768.8C3210.5 767.9 3205.1 765.2 3200.1 762.1C3195.2 758.9 3190.6 755.1 3186.6 749.9C3182.5 744.7 3178.9 738.2 3175.8 731C3172.6 723.8 3169.9 715.7 3167.7 706.6C3165.4 697.6 3163.6 686.4 3162.2 676.9C3160.9 667.4 3160.2 658.9 3159.5 649.9C3158.9 640.8 3158.2 631.8 3158.2 622.8C3158.2 613.8 3158.4 604.3 3159.5 595.8C3160.7 587.2 3163.2 579.1 3165 571.4C3166.8 563.8 3168.6 557 3170.4 549.8C3172.2 542.6 3173.5 534.9 3175.8 528.2C3178 521.4 3180.7 514.2 3183.9 509.2C3187 504.3 3189.3 500.2 3194.7 498.4Z" fill="#ff8f57" />
<path d="M3170.4 552.5C3171.5 550.3 3174.4 546.6 3178.5 544.9C3182.5 543.2 3189.5 542.2 3194.7 542.2C3199.9 542.2 3206.2 543.2 3209.6 544.9C3213 546.6 3214.8 550.3 3215 552.5C3215.2 554.8 3214.3 557.3 3210.9 558.5C3207.5 559.6 3200.1 559 3194.7 559.3C3189.3 559.5 3182.3 560.3 3178.5 560.1C3174.6 559.9 3173.1 559.2 3171.7 557.9C3170.4 556.7 3169.2 554.7 3170.4 552.5Z" fill="#8f4535" />
<path d="M3256.4 562C3257.8 560.4 3260.9 558.4 3265 557.9C3269.2 557.5 3275.8 557.7 3281.2 559.3C3286.6 560.8 3293.2 564.2 3297.5 567.4C3301.7 570.5 3305.8 575.3 3306.9 578.2C3308 581.1 3306.7 584.3 3304.2 585C3301.7 585.6 3296.8 583.6 3292 582.2C3287.3 580.9 3281 578.6 3275.8 576.8C3270.6 575.1 3264.2 573.6 3261 572C3257.7 570.4 3257.1 569 3256.4 567.4C3255.6 565.7 3254.9 563.5 3256.4 562Z" fill="#8f4535" />
<ellipse cx="3188.5" cy="597.1" rx="7.6" ry="12.2" fill="#302d38"/>
<path d="M3179.8 581.4C3181.4 582.1 3185.5 584 3189.3 585.5C3193.1 587 3200.6 589.6 3202.8 590.4" fill="none" stroke="#302d38" stroke-width="3.4" stroke-linejoin="round" stroke-linecap="butt"/>
<ellipse cx="3263.7" cy="618.8" rx="7.6" ry="12.2" fill="#302d38"/>
<path d="M3252.3 600.4C3254.4 601.3 3260.7 604.1 3265 605.8C3269.3 607.5 3275.8 609.8 3278 610.6" fill="none" stroke="#302d38" stroke-width="3.4" stroke-linejoin="round" stroke-linecap="butt"/>
<path d="M3215 607.1L3200.1 633.6L3187.9 658L3201.5 668.2" fill="none" stroke="#ff5226" stroke-width="3" stroke-linecap="round" stroke-linejoin="round" />
<path d="M3207.7 658.5L3215 665.5" fill="none" stroke="#ff5226" stroke-width="3" stroke-linecap="round" stroke-linejoin="round" />
<path d="M3189.8 720.7L3205.5 726.1" fill="none" stroke="#ff5226" stroke-width="2.8" stroke-linecap="round" stroke-linejoin="round" />
<path d="M3177.1 689.1C3177.1 689.1 3188.6 692.7 3194.7 694.5C3200.8 696.3 3207.7 698.4 3213.6 699.9C3219.6 701.4 3230.4 703.4 3230.4 703.4C3230.4 703.4 3223.6 709.2 3219 710.7C3214.4 712.2 3207.8 712.8 3202.8 712.6C3197.9 712.4 3192.9 711.2 3189.3 709.3C3185.7 707.5 3183.2 704.6 3181.2 701.2C3179.2 697.9 3177.1 689.1 3177.1 689.1Z" fill="#f4ebde" />
<path d="M3219.6 489.8C3222.6 487.8 3231.7 481.4 3238 478.1C3244.2 474.8 3251 473 3256.9 470C3262.8 467.1 3269.1 463.1 3273.1 460.6C3277.2 458 3279.9 455.6 3281.2 454.6" fill="none" stroke="#4f211c" stroke-width="2.8" stroke-linecap="round" stroke-linejoin="round" />
<path d="M3238.5 493.6C3240.2 495.5 3243.9 501.7 3248.8 505.2C3253.7 508.7 3260.5 511.9 3267.7 514.6C3274.9 517.3 3284.8 518.7 3292 521.4C3299.3 524.1 3305.6 526.8 3311 530.9C3316.4 534.9 3321.3 539.9 3324.5 545.7C3327.7 551.6 3328.1 559.5 3329.9 566C3331.7 572.6 3333.3 578.6 3335.3 585C3337.3 591.3 3340.3 597.1 3342.1 603.9C3343.9 610.6 3345.8 617.6 3346.1 625.5C3346.4 633.4 3344.3 646.9 3344 651.2" fill="none" stroke="#4f211c" stroke-width="2.8" stroke-linecap="round" stroke-linejoin="round" />
<path d="M3347.5 555.7C3347.7 558.8 3347.5 567.5 3348.8 574.1C3350.2 580.8 3353.8 588.6 3355.6 595.8C3357.4 603 3359.2 610.2 3359.7 617.4C3360.1 624.6 3359.7 631.4 3358.3 639C3356.9 646.7 3353.1 654.8 3351.5 663.4C3350 671.9 3350 681.4 3348.8 690.4C3347.7 699.4 3345.7 707.8 3344.8 717.5C3343.9 727.1 3343.7 743.4 3343.4 748.6" fill="none" stroke="#4f211c" stroke-width="2.8" stroke-linecap="round" stroke-linejoin="round" />
<path d="M3398.1 549.3C3398.6 552.1 3400.8 559.6 3401.6 566C3402.4 572.4 3401.8 580.4 3402.9 587.7C3404 594.9 3406.8 601.6 3408.3 609.3C3409.9 617 3411.5 626.4 3412.4 633.6C3413.3 640.8 3412.6 646.2 3413.7 652.6C3414.9 658.9 3417.9 664.7 3419.1 671.5C3420.4 678.2 3421.5 685.5 3421.3 693.1C3421.1 700.8 3418.4 713.4 3417.8 717.5" fill="none" stroke="#4f211c" stroke-width="2.8" stroke-linecap="round" stroke-linejoin="round" />
<path d="M3397.5 658.5C3397.7 661.6 3397.5 670.2 3398.9 676.9C3400.2 683.6 3404.9 692.2 3405.6 698.5C3406.4 704.8 3403.8 712 3403.5 714.8" fill="none" stroke="#4f211c" stroke-width="2.8" stroke-linecap="round" stroke-linejoin="round" />
<path d="M3175.8 526C3174 528.6 3169 536.4 3165 541.7C3160.9 547 3155 551.2 3151.4 557.9C3147.8 564.7 3144.9 573.7 3143.3 582.2C3141.7 590.8 3142.4 600.3 3142 609.3C3141.5 618.3 3142.2 627.3 3140.6 636.3C3139 645.3 3135.1 655.3 3132.5 663.4C3129.9 671.5 3126.4 678.5 3124.9 685C3123.5 691.5 3124 699.7 3123.9 702.6" fill="none" stroke="#4f211c" stroke-width="2.8" stroke-linecap="round" stroke-linejoin="round" />
<path d="M3142.8 667.4C3142.1 669.9 3139.3 676 3138.5 682.3C3137.6 688.6 3138 701.5 3137.9 705.3" fill="none" stroke="#4f211c" stroke-width="2.8" stroke-linecap="round" stroke-linejoin="round" />
<path d="M2570 1449.2L3003 1508.5L3059.9 1651.8L2628.5 1603.2Z" fill="#302d38" stroke="#302d38" stroke-width="10" stroke-linejoin="round"/>
<path d="M2587.5 1458.6L3007.5 1510.7L3037.9 1633.5L2636.9 1584.1Z" fill="#e0c3ae" />
<path d="M2612.2 1475.7L2737.6 1490.2L2754.7 1531.6L2628.2 1518.7Z" fill="#f4ebde" />
<path d="M2692 1540.7L2759.7 1546L2776.4 1589.8L2709.1 1580.3Z" fill="#a8a4b0" />
<path d="M3013.2 1464.3L3022.7 1466.2L3034.1 1485.2L3047.4 1511.8L3056.9 1538.4L3065.3 1569.6L3037.9 1573.4L3034.1 1546L3030.3 1523.2L3024.6 1500.4L3018.9 1481.4Z" fill="#ff8f57" />
<path d="M2916.3 1375L2847.1 1456.7" fill="none" stroke="#302d38" stroke-width="8.6" stroke-linecap="round" stroke-linejoin="round" />
<path d="M3013.2 1464.3C3010 1464.3 3002.1 1467.8 2996.1 1468.1C2990.1 1468.5 2984 1468.1 2977.1 1466.2C2970.1 1464.3 2962.5 1459.6 2954.3 1456.7C2946 1453.9 2935.9 1450.7 2927.7 1449.1C2919.4 1447.5 2911.8 1447.7 2904.9 1447.2C2897.9 1446.8 2892.8 1445.5 2885.9 1446.5C2878.9 1447.4 2871.3 1450.3 2863.1 1452.9C2854.8 1455.6 2844.7 1458.9 2836.5 1462.4C2828.2 1465.9 2820 1469.7 2813.6 1473.8C2807.3 1478 2802.9 1482.4 2798.4 1487.1C2794 1491.9 2790.5 1497.3 2787 1502.3C2783.6 1507.4 2778.8 1513.4 2777.5 1517.5C2776.3 1521.7 2777.2 1524.8 2779.4 1527C2781.7 1529.3 2788.6 1528.6 2790.8 1530.8C2793.1 1533.1 2790.8 1538.1 2792.7 1540.3C2794.6 1542.6 2798.8 1543.2 2802.2 1544.1C2805.7 1545.1 2810.8 1544.5 2813.6 1546C2816.5 1547.6 2816.2 1551.4 2819.4 1553.6C2822.5 1555.9 2829.2 1557.5 2832.7 1559.4C2836.1 1561.3 2836.5 1563.5 2840.3 1565.1C2844.1 1566.6 2849.8 1568.1 2855.5 1568.9C2861.2 1569.6 2866.9 1569.9 2874.5 1569.6C2882.1 1569.3 2893.5 1566.4 2901.1 1567C2908.7 1567.5 2913.1 1570.8 2920.1 1572.7C2927 1574.6 2935.3 1577.4 2942.9 1578.4C2950.5 1579.3 2958.1 1579 2965.7 1578.4C2973.3 1577.7 2981.5 1575.6 2988.5 1574.6C2995.4 1573.5 3001.8 1571.7 3007.5 1571.9C3013.2 1572.1 3018.6 1574.9 3022.7 1575.7C3026.8 1576.5 3030 1577.6 3032.2 1576.5C3034.4 1575.3 3035.7 1573.9 3036 1568.9C3036.3 1563.8 3035 1553.6 3034.1 1546C3033.1 1538.4 3031.9 1530.8 3030.3 1523.2C3028.7 1515.6 3026.5 1507.4 3024.6 1500.4C3022.7 1493.5 3020.5 1486.8 3018.9 1481.4C3017.3 1476.1 3016 1471 3015.1 1468.1C3014.1 1465.3 3016.4 1464.3 3013.2 1464.3Z" fill="#546fae" />
<path d="M2887.8 1458.6C2889 1463.1 2893.5 1476.4 2895.4 1485.2C2897.3 1494.1 2898.2 1502.7 2899.2 1511.8C2900.1 1521 2900.7 1535.6 2901.1 1540.3" fill="none" stroke="#3a4fa0" stroke-width="5.2" stroke-linejoin="round" stroke-linecap="butt"/>
<path d="M2792.7 1525.1C2795 1522.6 2800.7 1515 2806 1509.9C2811.4 1504.9 2818.7 1498.9 2825.1 1494.7C2831.4 1490.6 2837.6 1487.8 2844.1 1485.2C2850.5 1482.7 2860.5 1480.5 2863.8 1479.5" fill="none" stroke="#3a4fa0" stroke-width="5.2" stroke-linejoin="round" stroke-linecap="butt"/>
<path d="M2815.6 1541.5C2817.8 1539.1 2823.5 1531.7 2828.9 1527C2834.2 1522.4 2840.9 1517.7 2847.9 1513.7C2854.8 1509.8 2866.9 1505.2 2870.7 1503.5" fill="none" stroke="#3a4fa0" stroke-width="5.2" stroke-linejoin="round" stroke-linecap="butt"/>
<path d="M2838.4 1554.4C2840.6 1552.7 2846.9 1547.3 2851.7 1544.1C2856.4 1541 2862.7 1537.6 2866.9 1535.4C2871 1533.2 2874.8 1531.6 2876.4 1530.8" fill="none" stroke="#3a4fa0" stroke-width="5.2" stroke-linejoin="round" stroke-linecap="butt"/>
<path d="M2999.9 1474.6C3000.8 1477.6 3003.4 1486 3005.6 1492.8C3007.8 1499.7 3011.1 1507.4 3013.2 1515.6C3015.3 1523.9 3017.2 1534.3 3018.1 1542.2C3019.1 1550.2 3018.8 1559.7 3018.9 1563.2" fill="none" stroke="#3a4fa0" stroke-width="5.2" stroke-linejoin="round" stroke-linecap="butt"/>
<path d="M3009.4 1528.9C3008.9 1531.8 3007 1540.2 3006.7 1546C3006.4 1551.9 3007.4 1561.3 3007.5 1564.3" fill="none" stroke="#3a4fa0" stroke-width="5.2" stroke-linejoin="round" stroke-linecap="butt"/>
</svg>
</body></html>
